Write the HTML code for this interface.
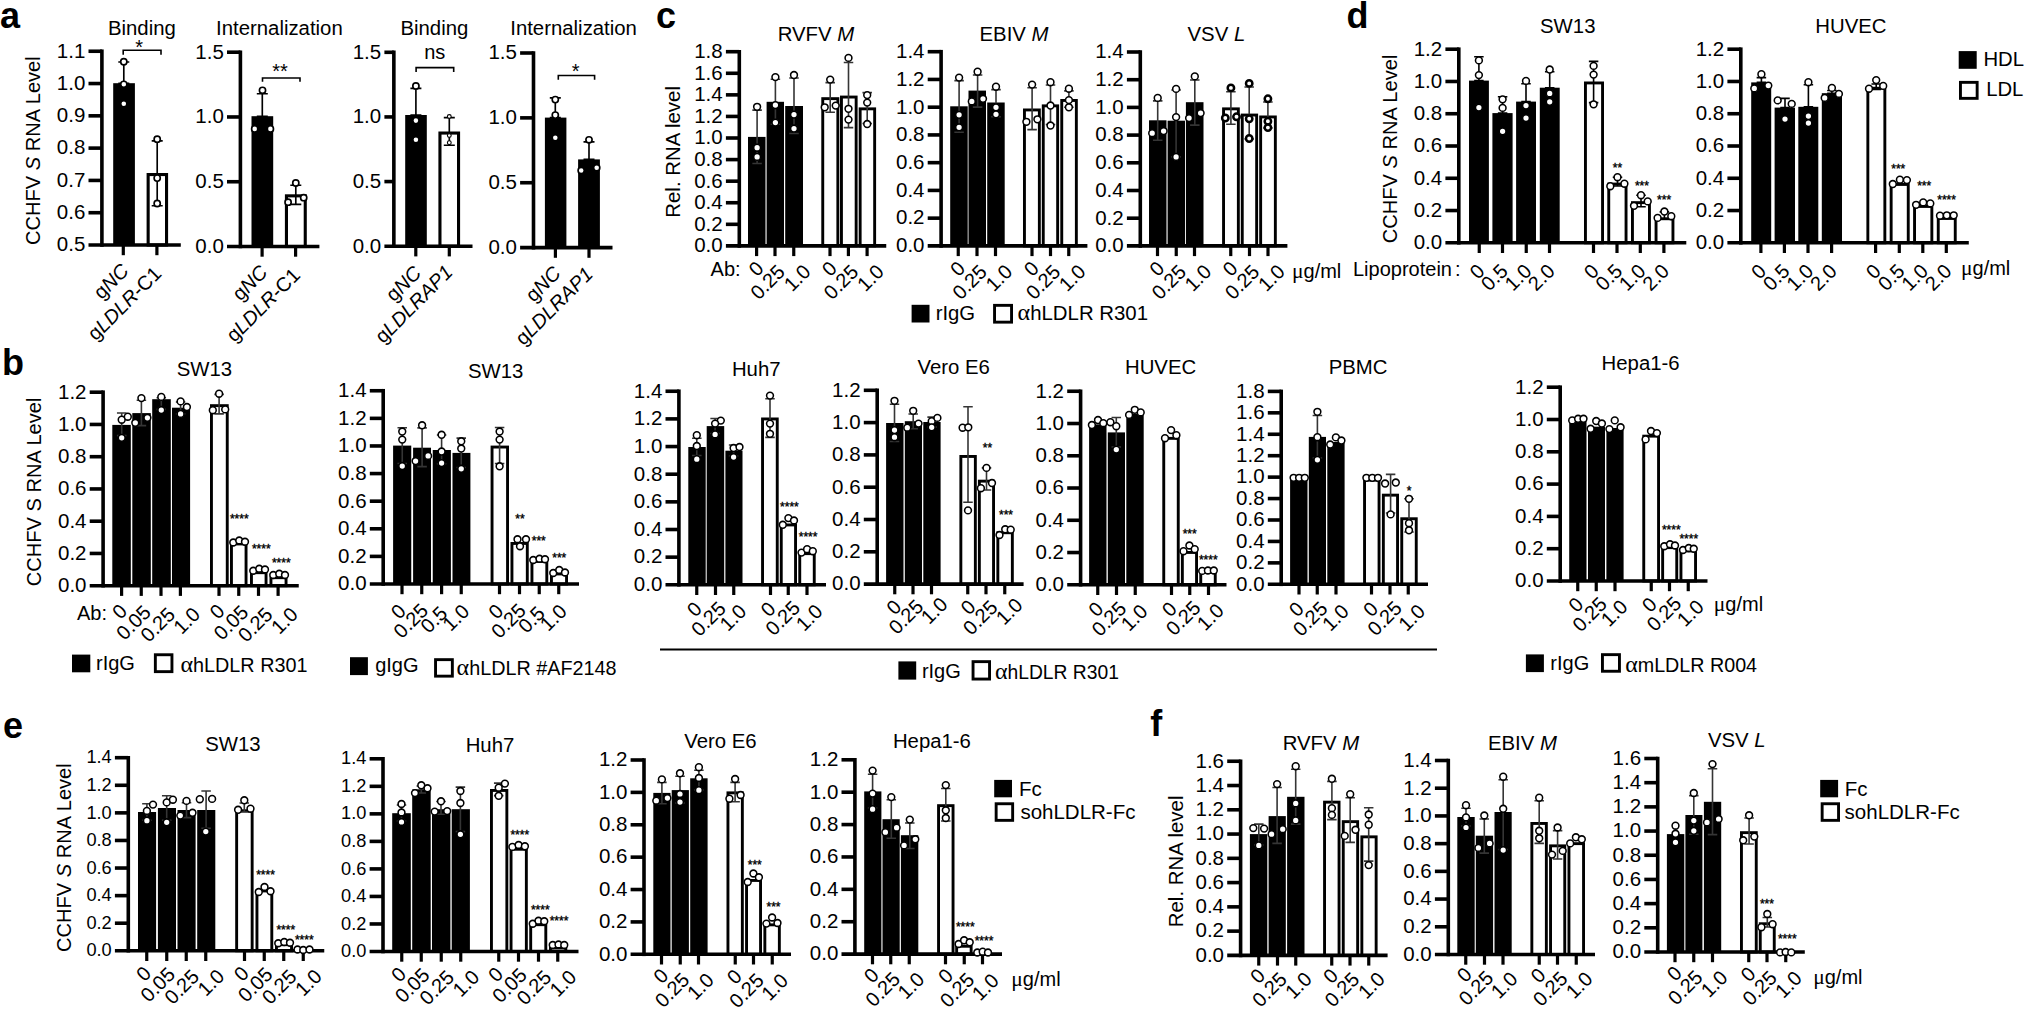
<!DOCTYPE html>
<html lang="en"><head><meta charset="utf-8"><title>Figure</title>
<style>
html,body{margin:0;padding:0;background:#fff}
body{width:2025px;height:1009px;overflow:hidden}
svg{display:block;font-family:"Liberation Sans",Arial,Helvetica,sans-serif;font-size:20px;fill:#000}
svg text{white-space:pre}
</style></head><body>
<svg width="2025" height="1009" viewBox="0 0 2025 1009">
<rect width="2025" height="1009" fill="#fff"/>
<g>
<rect x="113.2" y="83.2" width="21.7" height="161.8"/>
<rect x="148.15" y="174.55" width="18.4" height="70.45" fill="#fff" stroke="#000" stroke-width="3.1"/>
<path d="M101.9 49.45L101.9 246.8" stroke="#000" stroke-width="3.6"/>
<path d="M88.5 245L180.8 245" stroke="#000" stroke-width="3.6"/>
<path d="M88.5 51.25L101.9 51.25" stroke="#000" stroke-width="3.6"/>
<text x="85.3" y="57.58" text-anchor="end" font-size="20.5">1.1</text>
<path d="M88.5 83.54L101.9 83.54" stroke="#000" stroke-width="3.6"/>
<text x="85.3" y="89.88" text-anchor="end" font-size="20.5">1.0</text>
<path d="M88.5 115.83L101.9 115.83" stroke="#000" stroke-width="3.6"/>
<text x="85.3" y="122.17" text-anchor="end" font-size="20.5">0.9</text>
<path d="M88.5 148.12L101.9 148.12" stroke="#000" stroke-width="3.6"/>
<text x="85.3" y="154.46" text-anchor="end" font-size="20.5">0.8</text>
<path d="M88.5 180.42L101.9 180.42" stroke="#000" stroke-width="3.6"/>
<text x="85.3" y="186.75" text-anchor="end" font-size="20.5">0.7</text>
<path d="M88.5 212.71L101.9 212.71" stroke="#000" stroke-width="3.6"/>
<text x="85.3" y="219.04" text-anchor="end" font-size="20.5">0.6</text>
<text x="85.3" y="251.33" text-anchor="end" font-size="20.5">0.5</text>
<path d="M123.3 245L123.3 255.2" stroke="#000" stroke-width="3.2"/>
<path d="M156.9 245L156.9 255.2" stroke="#000" stroke-width="3.2"/>
<path d="M123.8 62L123.8 83.2M118.3 62L129.3 62M118.3 83.2L129.3 83.2" stroke="#000" stroke-width="1.65" fill="none"/>
<path d="M157.2 140.9L157.2 205.7M151.7 140.9L162.7 140.9M151.7 205.7L162.7 205.7" stroke="#000" stroke-width="1.65" fill="none"/>
<circle cx="123.8" cy="61.7" r="3.1" fill="#fff" stroke="#000" stroke-width="1.65"/>
<circle cx="123.8" cy="84.3" r="3.1" fill="#fff" stroke="#000" stroke-width="1.65"/>
<circle cx="123.8" cy="103.8" r="3.1" fill="#fff" stroke="#000" stroke-width="1.65"/>
<circle cx="157.2" cy="139.2" r="3.1" fill="#fff" stroke="#000" stroke-width="1.65"/>
<circle cx="157.2" cy="178.1" r="3.1" fill="#fff" stroke="#000" stroke-width="1.65"/>
<circle cx="157.2" cy="203.5" r="3.1" fill="#fff" stroke="#000" stroke-width="1.65"/>
<text x="141.9" y="34.5" text-anchor="middle" font-size="20.35">Binding</text>
<text transform="translate(130 272) rotate(-45)" text-anchor="end">g<tspan font-style="italic">NC</tspan></text>
<text transform="translate(162.6 274.8) rotate(-45)" text-anchor="end">g<tspan font-style="italic">LDLR</tspan>-C1</text>
<path d="M123.2 54.8L123.2 50.2L161 50.2L161 54.8" stroke="#000" stroke-width="1.6" fill="none"/>
<text x="139.2" y="54.3" text-anchor="middle">*</text>
<text transform="translate(40 150.6) rotate(-90)" text-anchor="middle" font-size="20.1">CCHFV <tspan font-style="italic">S</tspan> RNA Level</text>
</g>
<g>
<rect x="251.5" y="116.2" width="21.7" height="130.3"/>
<rect x="286.45" y="195.85" width="18.8" height="50.65" fill="#fff" stroke="#000" stroke-width="3.1"/>
<path d="M240.4 50.4L240.4 248.3" stroke="#000" stroke-width="3.6"/>
<path d="M227 246.5L319.4 246.5" stroke="#000" stroke-width="3.6"/>
<path d="M227 52.2L240.4 52.2" stroke="#000" stroke-width="3.6"/>
<text x="223.8" y="58.53" text-anchor="end" font-size="20.5">1.5</text>
<path d="M227 116.97L240.4 116.97" stroke="#000" stroke-width="3.6"/>
<text x="223.8" y="123.3" text-anchor="end" font-size="20.5">1.0</text>
<path d="M227 181.73L240.4 181.73" stroke="#000" stroke-width="3.6"/>
<text x="223.8" y="188.07" text-anchor="end" font-size="20.5">0.5</text>
<text x="223.8" y="252.83" text-anchor="end" font-size="20.5">0.0</text>
<path d="M262.1 246.5L262.1 256.7" stroke="#000" stroke-width="3.2"/>
<path d="M295.6 246.5L295.6 256.7" stroke="#000" stroke-width="3.2"/>
<path d="M262.3 93.7L262.3 116.2M256.8 93.7L267.8 93.7M256.8 116.2L267.8 116.2" stroke="#000" stroke-width="1.65" fill="none"/>
<path d="M295.8 185.2L295.8 204.3M290.3 185.2L301.3 185.2M290.3 204.3L301.3 204.3" stroke="#000" stroke-width="1.65" fill="none"/>
<circle cx="262.5" cy="90.3" r="3.1" fill="#fff" stroke="#000" stroke-width="1.65"/>
<circle cx="254.7" cy="128.9" r="3.1" fill="#fff" stroke="#000" stroke-width="1.65"/>
<circle cx="270.4" cy="128.9" r="3.1" fill="#fff" stroke="#000" stroke-width="1.65"/>
<circle cx="295.8" cy="183" r="3.1" fill="#fff" stroke="#000" stroke-width="1.65"/>
<circle cx="288.1" cy="202.2" r="3.1" fill="#fff" stroke="#000" stroke-width="1.65"/>
<circle cx="303.7" cy="197.7" r="3.1" fill="#fff" stroke="#000" stroke-width="1.65"/>
<text x="279.4" y="34.5" text-anchor="middle" font-size="20.35">Internalization</text>
<text transform="translate(268.7 273.5) rotate(-45)" text-anchor="end">g<tspan font-style="italic">NC</tspan></text>
<text transform="translate(301.3 276.3) rotate(-45)" text-anchor="end">g<tspan font-style="italic">LDLR</tspan>-C1</text>
<path d="M262.5 81.8L262.5 78L300 78L300 81.8" stroke="#000" stroke-width="1.6" fill="none"/>
<text x="280" y="78.4" text-anchor="middle">**</text>
</g>
<g>
<rect x="405.2" y="115" width="21.6" height="131.2"/>
<rect x="439.95" y="133.05" width="18.6" height="113.15" fill="#fff" stroke="#000" stroke-width="3.1"/>
<path d="M393.85 50.5L393.85 248" stroke="#000" stroke-width="3.6"/>
<path d="M384.4 246.2L472.5 246.2" stroke="#000" stroke-width="3.6"/>
<path d="M384.4 52.3L393.85 52.3" stroke="#000" stroke-width="3.6"/>
<text x="381.2" y="58.63" text-anchor="end" font-size="20.5">1.5</text>
<path d="M384.4 116.93L393.85 116.93" stroke="#000" stroke-width="3.6"/>
<text x="381.2" y="123.27" text-anchor="end" font-size="20.5">1.0</text>
<path d="M384.4 181.57L393.85 181.57" stroke="#000" stroke-width="3.6"/>
<text x="381.2" y="187.9" text-anchor="end" font-size="20.5">0.5</text>
<text x="381.2" y="252.53" text-anchor="end" font-size="20.5">0.0</text>
<path d="M415.8 246.2L415.8 256.4" stroke="#000" stroke-width="3.2"/>
<path d="M449.3 246.2L449.3 256.4" stroke="#000" stroke-width="3.2"/>
<path d="M415.9 88.3L415.9 115M410.4 88.3L421.4 88.3M410.4 115L421.4 115" stroke="#000" stroke-width="1.65" fill="none"/>
<path d="M449.3 117.6L449.3 145.2M443.8 117.6L454.8 117.6M443.8 145.2L454.8 145.2" stroke="#000" stroke-width="1.65" fill="none"/>
<circle cx="415.9" cy="85.9" r="3.1" fill="#fff" stroke="#000" stroke-width="1.65"/>
<circle cx="415.9" cy="120.6" r="3.1" fill="#fff" stroke="#000" stroke-width="1.65"/>
<circle cx="415.9" cy="139.7" r="3.1" fill="#fff" stroke="#000" stroke-width="1.65"/>
<circle cx="449.3" cy="116.5" r="1.9" fill="#fff" stroke="#000" stroke-width="1.1"/>
<circle cx="449.3" cy="135.5" r="1.9" fill="#fff" stroke="#000" stroke-width="1.1"/>
<circle cx="449.3" cy="142.7" r="1.9" fill="#fff" stroke="#000" stroke-width="1.1"/>
<text x="434.4" y="34.5" text-anchor="middle" font-size="20.35">Binding</text>
<text transform="translate(422.4 274.2) rotate(-45)" text-anchor="end">g<tspan font-style="italic">NC</tspan></text>
<text transform="translate(453.9 273.5) rotate(-45)" text-anchor="end">g<tspan font-style="italic">LDLRAP1</tspan></text>
<path d="M416.1 71.9L416.1 67.6L453.7 67.6L453.7 71.9" stroke="#000" stroke-width="1.6" fill="none"/>
<text x="434.8" y="58.8" text-anchor="middle">ns</text>
</g>
<g>
<rect x="544.9" y="117.6" width="21.5" height="130"/>
<rect x="578.1" y="159.4" width="21.8" height="88.2"/>
<path d="M533.5 51.2L533.5 249.4" stroke="#000" stroke-width="3.6"/>
<path d="M520.1 247.6L612.5 247.6" stroke="#000" stroke-width="3.6"/>
<path d="M520.1 53L533.5 53" stroke="#000" stroke-width="3.6"/>
<text x="516.9" y="59.33" text-anchor="end" font-size="20.5">1.5</text>
<path d="M520.1 117.87L533.5 117.87" stroke="#000" stroke-width="3.6"/>
<text x="516.9" y="124.2" text-anchor="end" font-size="20.5">1.0</text>
<path d="M520.1 182.73L533.5 182.73" stroke="#000" stroke-width="3.6"/>
<text x="516.9" y="189.07" text-anchor="end" font-size="20.5">0.5</text>
<text x="516.9" y="253.93" text-anchor="end" font-size="20.5">0.0</text>
<path d="M555.4 247.6L555.4 257.8" stroke="#000" stroke-width="3.2"/>
<path d="M589 247.6L589 257.8" stroke="#000" stroke-width="3.2"/>
<path d="M555.3 97.9L555.3 117.6M549.8 97.9L560.8 97.9M549.8 117.6L560.8 117.6" stroke="#000" stroke-width="1.65" fill="none"/>
<path d="M589 141.8L589 159.4M583.5 141.8L594.5 141.8M583.5 159.4L594.5 159.4" stroke="#000" stroke-width="1.65" fill="none"/>
<circle cx="555.3" cy="99.6" r="3.1" fill="#fff" stroke="#000" stroke-width="1.65"/>
<circle cx="555.3" cy="115.1" r="3.1" fill="#fff" stroke="#000" stroke-width="1.65"/>
<circle cx="555.3" cy="137.7" r="3.1" fill="#fff" stroke="#000" stroke-width="1.65"/>
<circle cx="589" cy="139.8" r="3.1" fill="#fff" stroke="#000" stroke-width="1.65"/>
<circle cx="581.2" cy="170.5" r="3.1" fill="#fff" stroke="#000" stroke-width="1.65"/>
<circle cx="596.7" cy="167.7" r="3.1" fill="#fff" stroke="#000" stroke-width="1.65"/>
<text x="573.6" y="34.5" text-anchor="middle" font-size="20.35">Internalization</text>
<text transform="translate(562 274.6) rotate(-45)" text-anchor="end">g<tspan font-style="italic">NC</tspan></text>
<text transform="translate(594.2 275.4) rotate(-45)" text-anchor="end">g<tspan font-style="italic">LDLRAP1</tspan></text>
<path d="M558.3 79.7L558.3 75.5L594.6 75.5L594.6 79.7" stroke="#000" stroke-width="1.6" fill="none"/>
<text x="575.6" y="78.4" text-anchor="middle">*</text>
</g>
<g>
<rect x="748" y="136.9" width="17.5" height="109"/>
<rect x="766.6" y="101.8" width="17.4" height="144.1"/>
<rect x="785.2" y="106" width="17.8" height="139.9"/>
<rect x="822.75" y="98.65" width="15.1" height="147.25" fill="#fff" stroke="#000" stroke-width="2.9"/>
<rect x="841.45" y="97.05" width="14.7" height="148.85" fill="#fff" stroke="#000" stroke-width="2.9"/>
<rect x="860.15" y="108.85" width="14.5" height="137.05" fill="#fff" stroke="#000" stroke-width="2.9"/>
<path d="M739.3 49.9L739.3 247.7" stroke="#000" stroke-width="3.6"/>
<path d="M725.9 245.9L886.25 245.9" stroke="#000" stroke-width="3.6"/>
<path d="M725.9 51.7L739.3 51.7" stroke="#000" stroke-width="3.6"/>
<text x="722.7" y="58.03" text-anchor="end" font-size="20.5">1.8</text>
<path d="M725.9 73.28L739.3 73.28" stroke="#000" stroke-width="3.6"/>
<text x="722.7" y="79.61" text-anchor="end" font-size="20.5">1.6</text>
<path d="M725.9 94.86L739.3 94.86" stroke="#000" stroke-width="3.6"/>
<text x="722.7" y="101.19" text-anchor="end" font-size="20.5">1.4</text>
<path d="M725.9 116.43L739.3 116.43" stroke="#000" stroke-width="3.6"/>
<text x="722.7" y="122.77" text-anchor="end" font-size="20.5">1.2</text>
<path d="M725.9 138.01L739.3 138.01" stroke="#000" stroke-width="3.6"/>
<text x="722.7" y="144.35" text-anchor="end" font-size="20.5">1.0</text>
<path d="M725.9 159.59L739.3 159.59" stroke="#000" stroke-width="3.6"/>
<text x="722.7" y="165.92" text-anchor="end" font-size="20.5">0.8</text>
<path d="M725.9 181.17L739.3 181.17" stroke="#000" stroke-width="3.6"/>
<text x="722.7" y="187.5" text-anchor="end" font-size="20.5">0.6</text>
<path d="M725.9 202.74L739.3 202.74" stroke="#000" stroke-width="3.6"/>
<text x="722.7" y="209.08" text-anchor="end" font-size="20.5">0.4</text>
<path d="M725.9 224.32L739.3 224.32" stroke="#000" stroke-width="3.6"/>
<text x="722.7" y="230.66" text-anchor="end" font-size="20.5">0.2</text>
<text x="722.7" y="252.23" text-anchor="end" font-size="20.5">0.0</text>
<path d="M756.6 245.9L756.6 256.1" stroke="#000" stroke-width="3.2"/>
<path d="M775 245.9L775 256.1" stroke="#000" stroke-width="3.2"/>
<path d="M793.75 245.9L793.75 256.1" stroke="#000" stroke-width="3.2"/>
<path d="M830 245.9L830 256.1" stroke="#000" stroke-width="3.2"/>
<path d="M848.4 245.9L848.4 256.1" stroke="#000" stroke-width="3.2"/>
<path d="M867.1 245.9L867.1 256.1" stroke="#000" stroke-width="3.2"/>
<path d="M757.1 110.1L757.1 163.5M752.35 110.1L761.85 110.1M752.35 163.5L761.85 163.5" stroke="#353535" stroke-width="1.6" fill="none"/>
<path d="M775.4 79.2L775.4 124.3M770.65 79.2L780.15 79.2M770.65 124.3L780.15 124.3" stroke="#353535" stroke-width="1.6" fill="none"/>
<path d="M794 78L794 133.5M789.25 78L798.75 78M789.25 133.5L798.75 133.5" stroke="#353535" stroke-width="1.6" fill="none"/>
<path d="M830.2 82.6L830.2 112.3M825.45 82.6L834.95 82.6M825.45 112.3L834.95 112.3" stroke="#353535" stroke-width="1.6" fill="none"/>
<path d="M848.5 62.5L848.5 127.6M843.75 62.5L853.25 62.5M843.75 127.6L853.25 127.6" stroke="#353535" stroke-width="1.6" fill="none"/>
<path d="M867.2 92.6L867.2 123.5M862.45 92.6L871.95 92.6M862.45 123.5L871.95 123.5" stroke="#353535" stroke-width="1.6" fill="none"/>
<circle cx="757.1" cy="106.8" r="3.4" fill="#fff" stroke="#000" stroke-width="1.55"/>
<circle cx="757.1" cy="147.7" r="3.4" fill="#fff" stroke="#000" stroke-width="1.55"/>
<circle cx="757.1" cy="156.9" r="3.4" fill="#fff" stroke="#000" stroke-width="1.55"/>
<circle cx="775.4" cy="77.1" r="3.4" fill="#fff" stroke="#000" stroke-width="1.55"/>
<circle cx="775.4" cy="105.1" r="3.4" fill="#fff" stroke="#000" stroke-width="1.55"/>
<circle cx="775.4" cy="122.6" r="3.4" fill="#fff" stroke="#000" stroke-width="1.55"/>
<circle cx="794" cy="75" r="3.4" fill="#fff" stroke="#000" stroke-width="1.55"/>
<circle cx="794" cy="114.6" r="3.4" fill="#fff" stroke="#000" stroke-width="1.55"/>
<circle cx="794" cy="128.5" r="3.4" fill="#fff" stroke="#000" stroke-width="1.55"/>
<circle cx="830.2" cy="79.6" r="3.4" fill="#fff" stroke="#000" stroke-width="1.55"/>
<circle cx="824.7" cy="107.3" r="3.4" fill="#fff" stroke="#000" stroke-width="1.55"/>
<circle cx="835.7" cy="105.6" r="3.4" fill="#fff" stroke="#000" stroke-width="1.55"/>
<circle cx="848.5" cy="57.9" r="3.4" fill="#fff" stroke="#000" stroke-width="1.55"/>
<circle cx="848.5" cy="108.8" r="3.4" fill="#fff" stroke="#000" stroke-width="1.55"/>
<circle cx="848.5" cy="119.6" r="3.4" fill="#fff" stroke="#000" stroke-width="1.55"/>
<circle cx="867.2" cy="95.1" r="3.4" fill="#fff" stroke="#000" stroke-width="1.55"/>
<circle cx="867.2" cy="102.6" r="3.4" fill="#fff" stroke="#000" stroke-width="1.55"/>
<circle cx="867.2" cy="124" r="3.4" fill="#fff" stroke="#000" stroke-width="1.55"/>
<text x="815.9" y="40.5" text-anchor="middle" font-size="20.35">RVFV <tspan font-style="italic">M</tspan></text>
<text transform="translate(764.8 269.6) rotate(-45)" text-anchor="end">0</text>
<text transform="translate(786.2 273.2) rotate(-45)" text-anchor="end">0.25</text>
<text transform="translate(811.85 272.9) rotate(-45)" text-anchor="end">1.0</text>
<text transform="translate(838.2 269.6) rotate(-45)" text-anchor="end">0</text>
<text transform="translate(859.6 273.2) rotate(-45)" text-anchor="end">0.25</text>
<text transform="translate(885.2 272.9) rotate(-45)" text-anchor="end">1.0</text>
<text transform="translate(680 151.9) rotate(-90)" text-anchor="middle" font-size="20.45">Rel. RNA level</text>
</g>
<g>
<rect x="950.2" y="106.3" width="17.5" height="139.6"/>
<rect x="968.5" y="90.6" width="17.5" height="155.3"/>
<rect x="987.2" y="102.5" width="17.5" height="143.4"/>
<rect x="1024.45" y="109.95" width="14.9" height="135.95" fill="#fff" stroke="#000" stroke-width="2.9"/>
<rect x="1043.25" y="105.85" width="14.4" height="140.05" fill="#fff" stroke="#000" stroke-width="2.9"/>
<rect x="1061.75" y="100.45" width="14.6" height="145.45" fill="#fff" stroke="#000" stroke-width="2.9"/>
<path d="M941.1 49.9L941.1 247.7" stroke="#000" stroke-width="3.6"/>
<path d="M927.7 245.9L1087.4 245.9" stroke="#000" stroke-width="3.6"/>
<path d="M927.7 51.7L941.1 51.7" stroke="#000" stroke-width="3.6"/>
<text x="924.5" y="58.03" text-anchor="end" font-size="20.5">1.4</text>
<path d="M927.7 79.44L941.1 79.44" stroke="#000" stroke-width="3.6"/>
<text x="924.5" y="85.78" text-anchor="end" font-size="20.5">1.2</text>
<path d="M927.7 107.19L941.1 107.19" stroke="#000" stroke-width="3.6"/>
<text x="924.5" y="113.52" text-anchor="end" font-size="20.5">1.0</text>
<path d="M927.7 134.93L941.1 134.93" stroke="#000" stroke-width="3.6"/>
<text x="924.5" y="141.26" text-anchor="end" font-size="20.5">0.8</text>
<path d="M927.7 162.67L941.1 162.67" stroke="#000" stroke-width="3.6"/>
<text x="924.5" y="169.01" text-anchor="end" font-size="20.5">0.6</text>
<path d="M927.7 190.41L941.1 190.41" stroke="#000" stroke-width="3.6"/>
<text x="924.5" y="196.75" text-anchor="end" font-size="20.5">0.4</text>
<path d="M927.7 218.16L941.1 218.16" stroke="#000" stroke-width="3.6"/>
<text x="924.5" y="224.49" text-anchor="end" font-size="20.5">0.2</text>
<text x="924.5" y="252.23" text-anchor="end" font-size="20.5">0.0</text>
<path d="M958.25 245.9L958.25 256.1" stroke="#000" stroke-width="3.2"/>
<path d="M977 245.9L977 256.1" stroke="#000" stroke-width="3.2"/>
<path d="M995.5 245.9L995.5 256.1" stroke="#000" stroke-width="3.2"/>
<path d="M1032 245.9L1032 256.1" stroke="#000" stroke-width="3.2"/>
<path d="M1050.5 245.9L1050.5 256.1" stroke="#000" stroke-width="3.2"/>
<path d="M1068.75 245.9L1068.75 256.1" stroke="#000" stroke-width="3.2"/>
<path d="M959.1 80.6L959.1 132.3M954.35 80.6L963.85 80.6M954.35 132.3L963.85 132.3" stroke="#353535" stroke-width="1.6" fill="none"/>
<path d="M977.6 75L977.6 107.1M972.85 75L982.35 75M972.85 107.1L982.35 107.1" stroke="#353535" stroke-width="1.6" fill="none"/>
<path d="M996 89.6L996 116.8M991.25 89.6L1000.75 89.6M991.25 116.8L1000.75 116.8" stroke="#353535" stroke-width="1.6" fill="none"/>
<path d="M1032.1 87.7L1032.1 129.6M1027.35 87.7L1036.85 87.7M1027.35 129.6L1036.85 129.6" stroke="#353535" stroke-width="1.6" fill="none"/>
<path d="M1050.5 85L1050.5 124.5M1045.75 85L1055.25 85M1045.75 124.5L1055.25 124.5" stroke="#353535" stroke-width="1.6" fill="none"/>
<path d="M1068.9 90.9L1068.9 107.3M1064.15 90.9L1073.65 90.9M1064.15 107.3L1073.65 107.3" stroke="#353535" stroke-width="1.6" fill="none"/>
<circle cx="959.1" cy="77.6" r="3.4" fill="#fff" stroke="#000" stroke-width="1.55"/>
<circle cx="959.1" cy="114.8" r="3.4" fill="#fff" stroke="#000" stroke-width="1.55"/>
<circle cx="959.1" cy="127.3" r="3.4" fill="#fff" stroke="#000" stroke-width="1.55"/>
<circle cx="977.6" cy="71.7" r="3.4" fill="#fff" stroke="#000" stroke-width="1.55"/>
<circle cx="971.8" cy="101.4" r="3.4" fill="#fff" stroke="#000" stroke-width="1.55"/>
<circle cx="983" cy="98.8" r="3.4" fill="#fff" stroke="#000" stroke-width="1.55"/>
<circle cx="996" cy="86.7" r="3.4" fill="#fff" stroke="#000" stroke-width="1.55"/>
<circle cx="996" cy="107.3" r="3.4" fill="#fff" stroke="#000" stroke-width="1.55"/>
<circle cx="996" cy="114.3" r="3.4" fill="#fff" stroke="#000" stroke-width="1.55"/>
<circle cx="1032.1" cy="84.6" r="3.4" fill="#fff" stroke="#000" stroke-width="1.55"/>
<circle cx="1026.4" cy="121.8" r="3.4" fill="#fff" stroke="#000" stroke-width="1.55"/>
<circle cx="1037.4" cy="119.3" r="3.4" fill="#fff" stroke="#000" stroke-width="1.55"/>
<circle cx="1050.5" cy="82.2" r="3.4" fill="#fff" stroke="#000" stroke-width="1.55"/>
<circle cx="1050.5" cy="105.5" r="3.4" fill="#fff" stroke="#000" stroke-width="1.55"/>
<circle cx="1050.5" cy="125.5" r="3.4" fill="#fff" stroke="#000" stroke-width="1.55"/>
<circle cx="1068.9" cy="88.7" r="3.4" fill="#fff" stroke="#000" stroke-width="1.55"/>
<circle cx="1068.9" cy="100.1" r="3.4" fill="#fff" stroke="#000" stroke-width="1.55"/>
<circle cx="1068.9" cy="107.3" r="3.4" fill="#fff" stroke="#000" stroke-width="1.55"/>
<text x="1014" y="40.5" text-anchor="middle" font-size="20.35">EBIV <tspan font-style="italic">M</tspan></text>
<text transform="translate(966.45 269.6) rotate(-45)" text-anchor="end">0</text>
<text transform="translate(988.2 273.2) rotate(-45)" text-anchor="end">0.25</text>
<text transform="translate(1013.6 272.9) rotate(-45)" text-anchor="end">1.0</text>
<text transform="translate(1040.2 269.6) rotate(-45)" text-anchor="end">0</text>
<text transform="translate(1061.7 273.2) rotate(-45)" text-anchor="end">0.25</text>
<text transform="translate(1086.85 272.9) rotate(-45)" text-anchor="end">1.0</text>
</g>
<g>
<rect x="1149" y="120.3" width="17.5" height="125.6"/>
<rect x="1167.6" y="120.7" width="17.4" height="125.2"/>
<rect x="1185.9" y="102.2" width="17.6" height="143.7"/>
<rect x="1223.55" y="108.85" width="14.8" height="137.05" fill="#fff" stroke="#000" stroke-width="2.9"/>
<rect x="1242.25" y="115.05" width="14.4" height="130.85" fill="#fff" stroke="#000" stroke-width="2.9"/>
<rect x="1260.65" y="116.95" width="14.7" height="128.95" fill="#fff" stroke="#000" stroke-width="2.9"/>
<path d="M1140.3 50.2L1140.3 247.7" stroke="#000" stroke-width="3.6"/>
<path d="M1126.9 245.9L1287.4 245.9" stroke="#000" stroke-width="3.6"/>
<path d="M1126.9 52L1140.3 52" stroke="#000" stroke-width="3.6"/>
<text x="1123.7" y="58.33" text-anchor="end" font-size="20.5">1.4</text>
<path d="M1126.9 79.7L1140.3 79.7" stroke="#000" stroke-width="3.6"/>
<text x="1123.7" y="86.03" text-anchor="end" font-size="20.5">1.2</text>
<path d="M1126.9 107.4L1140.3 107.4" stroke="#000" stroke-width="3.6"/>
<text x="1123.7" y="113.73" text-anchor="end" font-size="20.5">1.0</text>
<path d="M1126.9 135.1L1140.3 135.1" stroke="#000" stroke-width="3.6"/>
<text x="1123.7" y="141.43" text-anchor="end" font-size="20.5">0.8</text>
<path d="M1126.9 162.8L1140.3 162.8" stroke="#000" stroke-width="3.6"/>
<text x="1123.7" y="169.13" text-anchor="end" font-size="20.5">0.6</text>
<path d="M1126.9 190.5L1140.3 190.5" stroke="#000" stroke-width="3.6"/>
<text x="1123.7" y="196.83" text-anchor="end" font-size="20.5">0.4</text>
<path d="M1126.9 218.2L1140.3 218.2" stroke="#000" stroke-width="3.6"/>
<text x="1123.7" y="224.53" text-anchor="end" font-size="20.5">0.2</text>
<text x="1123.7" y="252.23" text-anchor="end" font-size="20.5">0.0</text>
<path d="M1157.5 245.9L1157.5 256.1" stroke="#000" stroke-width="3.2"/>
<path d="M1176.25 245.9L1176.25 256.1" stroke="#000" stroke-width="3.2"/>
<path d="M1194.5 245.9L1194.5 256.1" stroke="#000" stroke-width="3.2"/>
<path d="M1230.75 245.9L1230.75 256.1" stroke="#000" stroke-width="3.2"/>
<path d="M1249.5 245.9L1249.5 256.1" stroke="#000" stroke-width="3.2"/>
<path d="M1268 245.9L1268 256.1" stroke="#000" stroke-width="3.2"/>
<path d="M1157.7 100.9L1157.7 140.2M1152.95 100.9L1162.45 100.9M1152.95 140.2L1162.45 140.2" stroke="#353535" stroke-width="1.6" fill="none"/>
<path d="M1176.1 90L1176.1 156.9M1171.35 90L1180.85 90M1171.35 156.9L1180.85 156.9" stroke="#353535" stroke-width="1.6" fill="none"/>
<path d="M1194.8 80L1194.8 125.1M1190.05 80L1199.55 80M1190.05 125.1L1199.55 125.1" stroke="#353535" stroke-width="1.6" fill="none"/>
<path d="M1230.9 91.8L1230.9 124.3M1226.15 91.8L1235.65 91.8M1226.15 124.3L1235.65 124.3" stroke="#353535" stroke-width="1.6" fill="none"/>
<path d="M1249.2 87L1249.2 139M1244.45 87L1253.95 87M1244.45 139L1253.95 139" stroke="#353535" stroke-width="1.6" fill="none"/>
<path d="M1267.9 102L1267.9 128M1263.15 102L1272.65 102M1263.15 128L1272.65 128" stroke="#353535" stroke-width="1.6" fill="none"/>
<circle cx="1157.7" cy="97.9" r="3.4" fill="#fff" stroke="#000" stroke-width="1.55"/>
<circle cx="1152.2" cy="133.2" r="3.4" fill="#fff" stroke="#000" stroke-width="1.55"/>
<circle cx="1163.6" cy="131" r="3.4" fill="#fff" stroke="#000" stroke-width="1.55"/>
<circle cx="1176.1" cy="88.9" r="3.4" fill="#fff" stroke="#000" stroke-width="1.55"/>
<circle cx="1176.1" cy="117.1" r="3.4" fill="#fff" stroke="#000" stroke-width="1.55"/>
<circle cx="1176.1" cy="156.9" r="3.4" fill="#fff" stroke="#000" stroke-width="1.55"/>
<circle cx="1194.8" cy="76.4" r="3.4" fill="#fff" stroke="#000" stroke-width="1.55"/>
<circle cx="1189.1" cy="118.1" r="3.4" fill="#fff" stroke="#000" stroke-width="1.55"/>
<circle cx="1200.6" cy="113.1" r="3.4" fill="#fff" stroke="#000" stroke-width="1.55"/>
<circle cx="1230.9" cy="87.9" r="3.2" fill="#fff" stroke="#000" stroke-width="2.5"/>
<circle cx="1225.3" cy="118" r="3.2" fill="#fff" stroke="#000" stroke-width="2.5"/>
<circle cx="1236.5" cy="116.8" r="3.2" fill="#fff" stroke="#000" stroke-width="2.5"/>
<circle cx="1249.2" cy="83.4" r="3.2" fill="#fff" stroke="#000" stroke-width="2.5"/>
<circle cx="1249.2" cy="118.8" r="3.2" fill="#fff" stroke="#000" stroke-width="2.5"/>
<circle cx="1249.2" cy="138.5" r="3.2" fill="#fff" stroke="#000" stroke-width="2.5"/>
<circle cx="1267.9" cy="98.8" r="3.2" fill="#fff" stroke="#000" stroke-width="2.5"/>
<circle cx="1267.9" cy="121.3" r="3.2" fill="#fff" stroke="#000" stroke-width="2.5"/>
<circle cx="1267.9" cy="127.6" r="3.2" fill="#fff" stroke="#000" stroke-width="2.5"/>
<text x="1216.4" y="40.5" text-anchor="middle" font-size="20.35">VSV <tspan font-style="italic">L</tspan></text>
<text transform="translate(1165.7 269.6) rotate(-45)" text-anchor="end">0</text>
<text transform="translate(1187.45 273.2) rotate(-45)" text-anchor="end">0.25</text>
<text transform="translate(1212.6 272.9) rotate(-45)" text-anchor="end">1.0</text>
<text transform="translate(1238.95 269.6) rotate(-45)" text-anchor="end">0</text>
<text transform="translate(1260.7 273.2) rotate(-45)" text-anchor="end">0.25</text>
<text transform="translate(1286.1 272.9) rotate(-45)" text-anchor="end">1.0</text>
</g>
<g>
<rect x="1469" y="80.6" width="19.9" height="162.2"/>
<rect x="1492.4" y="113.1" width="20.2" height="129.7"/>
<rect x="1516.1" y="101.6" width="19.9" height="141.2"/>
<rect x="1539.8" y="87.7" width="19.9" height="155.1"/>
<rect x="1585.45" y="82.95" width="17.1" height="159.85" fill="#fff" stroke="#000" stroke-width="2.9"/>
<rect x="1608.75" y="184.05" width="17.3" height="58.75" fill="#fff" stroke="#000" stroke-width="2.9"/>
<rect x="1632.45" y="202.65" width="17" height="40.15" fill="#fff" stroke="#000" stroke-width="2.9"/>
<rect x="1656.05" y="218.75" width="16.9" height="24.05" fill="#fff" stroke="#000" stroke-width="2.9"/>
<path d="M1458.8 47.4L1458.8 244.6" stroke="#000" stroke-width="3.6"/>
<path d="M1445.4 242.8L1686.3 242.8" stroke="#000" stroke-width="3.6"/>
<path d="M1445.4 49.2L1458.8 49.2" stroke="#000" stroke-width="3.6"/>
<text x="1442.2" y="55.53" text-anchor="end" font-size="20.5">1.2</text>
<path d="M1445.4 81.47L1458.8 81.47" stroke="#000" stroke-width="3.6"/>
<text x="1442.2" y="87.8" text-anchor="end" font-size="20.5">1.0</text>
<path d="M1445.4 113.73L1458.8 113.73" stroke="#000" stroke-width="3.6"/>
<text x="1442.2" y="120.07" text-anchor="end" font-size="20.5">0.8</text>
<path d="M1445.4 146L1458.8 146" stroke="#000" stroke-width="3.6"/>
<text x="1442.2" y="152.33" text-anchor="end" font-size="20.5">0.6</text>
<path d="M1445.4 178.27L1458.8 178.27" stroke="#000" stroke-width="3.6"/>
<text x="1442.2" y="184.6" text-anchor="end" font-size="20.5">0.4</text>
<path d="M1445.4 210.53L1458.8 210.53" stroke="#000" stroke-width="3.6"/>
<text x="1442.2" y="216.87" text-anchor="end" font-size="20.5">0.2</text>
<text x="1442.2" y="249.13" text-anchor="end" font-size="20.5">0.0</text>
<path d="M1479.25 242.8L1479.25 253" stroke="#000" stroke-width="3.2"/>
<path d="M1502.5 242.8L1502.5 253" stroke="#000" stroke-width="3.2"/>
<path d="M1526.25 242.8L1526.25 253" stroke="#000" stroke-width="3.2"/>
<path d="M1549.5 242.8L1549.5 253" stroke="#000" stroke-width="3.2"/>
<path d="M1593.5 242.8L1593.5 253" stroke="#000" stroke-width="3.2"/>
<path d="M1617 242.8L1617 253" stroke="#000" stroke-width="3.2"/>
<path d="M1640.3 242.8L1640.3 253" stroke="#000" stroke-width="3.2"/>
<path d="M1663.9 242.8L1663.9 253" stroke="#000" stroke-width="3.2"/>
<path d="M1478.9 56.7L1478.9 80.6M1474.15 56.7L1483.65 56.7M1474.15 80.6L1483.65 80.6" stroke="#000" stroke-width="1.6" fill="none"/>
<path d="M1502.6 96.8L1502.6 113.1M1497.85 96.8L1507.35 96.8M1497.85 113.1L1507.35 113.1" stroke="#000" stroke-width="1.6" fill="none"/>
<path d="M1526 83.7L1526 101.6M1521.25 83.7L1530.75 83.7M1521.25 101.6L1530.75 101.6" stroke="#000" stroke-width="1.6" fill="none"/>
<path d="M1549.7 71.7L1549.7 87.7M1544.95 71.7L1554.45 71.7M1544.95 87.7L1554.45 87.7" stroke="#000" stroke-width="1.6" fill="none"/>
<path d="M1593.6 61.4L1593.6 102.6M1588.85 61.4L1598.35 61.4M1588.85 102.6L1598.35 102.6" stroke="#000" stroke-width="1.6" fill="none"/>
<path d="M1617.5 177.2L1617.5 186M1612.75 177.2L1622.25 177.2M1612.75 186L1622.25 186" stroke="#000" stroke-width="1.6" fill="none"/>
<path d="M1641 195.2L1641 206.7M1636.25 195.2L1645.75 195.2M1636.25 206.7L1645.75 206.7" stroke="#000" stroke-width="1.6" fill="none"/>
<path d="M1664.4 211.9L1664.4 219M1659.65 211.9L1669.15 211.9M1659.65 219L1669.15 219" stroke="#000" stroke-width="1.6" fill="none"/>
<circle cx="1478.9" cy="60.4" r="3.4" fill="#fff" stroke="#000" stroke-width="1.55"/>
<circle cx="1478.9" cy="75.1" r="3.4" fill="#fff" stroke="#000" stroke-width="1.55"/>
<circle cx="1478.9" cy="107.6" r="3.4" fill="#fff" stroke="#000" stroke-width="1.55"/>
<circle cx="1502.6" cy="99.3" r="3.4" fill="#fff" stroke="#000" stroke-width="1.55"/>
<circle cx="1502.6" cy="107.9" r="3.4" fill="#fff" stroke="#000" stroke-width="1.55"/>
<circle cx="1502.6" cy="131.3" r="3.4" fill="#fff" stroke="#000" stroke-width="1.55"/>
<circle cx="1526" cy="80.9" r="3.4" fill="#fff" stroke="#000" stroke-width="1.55"/>
<circle cx="1526" cy="105.6" r="3.4" fill="#fff" stroke="#000" stroke-width="1.55"/>
<circle cx="1526" cy="118.1" r="3.4" fill="#fff" stroke="#000" stroke-width="1.55"/>
<circle cx="1549.7" cy="69.5" r="3.4" fill="#fff" stroke="#000" stroke-width="1.55"/>
<circle cx="1549.7" cy="93.4" r="3.4" fill="#fff" stroke="#000" stroke-width="1.55"/>
<circle cx="1549.7" cy="101.8" r="3.4" fill="#fff" stroke="#000" stroke-width="1.55"/>
<circle cx="1593.6" cy="65.9" r="3.4" fill="#fff" stroke="#000" stroke-width="1.55"/>
<circle cx="1593.6" cy="74.6" r="3.4" fill="#fff" stroke="#000" stroke-width="1.55"/>
<circle cx="1593.6" cy="104.3" r="3.4" fill="#fff" stroke="#000" stroke-width="1.55"/>
<circle cx="1617.5" cy="177.2" r="3.4" fill="#fff" stroke="#000" stroke-width="1.55"/>
<circle cx="1610.3" cy="186.2" r="3.4" fill="#fff" stroke="#000" stroke-width="1.55"/>
<circle cx="1624.4" cy="183.7" r="3.4" fill="#fff" stroke="#000" stroke-width="1.55"/>
<circle cx="1641" cy="195.2" r="3.4" fill="#fff" stroke="#000" stroke-width="1.55"/>
<circle cx="1634" cy="205.8" r="3.4" fill="#fff" stroke="#000" stroke-width="1.55"/>
<circle cx="1647.7" cy="201.4" r="3.4" fill="#fff" stroke="#000" stroke-width="1.55"/>
<circle cx="1664.4" cy="211.5" r="3.4" fill="#fff" stroke="#000" stroke-width="1.55"/>
<circle cx="1657.6" cy="217.9" r="3.4" fill="#fff" stroke="#000" stroke-width="1.55"/>
<circle cx="1671.3" cy="216.2" r="3.4" fill="#fff" stroke="#000" stroke-width="1.55"/>
<text x="1567.75" y="32.5" text-anchor="middle" font-size="20.35">SW13</text>
<text transform="translate(1485.75 272.3) rotate(-45)" text-anchor="end">0</text>
<text transform="translate(1509 272.3) rotate(-45)" text-anchor="end">0.5</text>
<text transform="translate(1532.75 272.3) rotate(-45)" text-anchor="end">1.0</text>
<text transform="translate(1556 272.3) rotate(-45)" text-anchor="end">2.0</text>
<text transform="translate(1600 272.3) rotate(-45)" text-anchor="end">0</text>
<text transform="translate(1623.5 272.3) rotate(-45)" text-anchor="end">0.5</text>
<text transform="translate(1646.8 272.3) rotate(-45)" text-anchor="end">1.0</text>
<text transform="translate(1670.4 272.3) rotate(-45)" text-anchor="end">2.0</text>
<text x="1617.4" y="172.3" text-anchor="middle" font-size="12" stroke="#000" stroke-width="0.35">**</text>
<text x="1641.9" y="189.8" text-anchor="middle" font-size="12" stroke="#000" stroke-width="0.35">***</text>
<text x="1664.1" y="203.5" text-anchor="middle" font-size="12" stroke="#000" stroke-width="0.35">***</text>
<text transform="translate(1397 149) rotate(-90)" text-anchor="middle" font-size="20.1">CCHFV <tspan font-style="italic">S</tspan> RNA Level</text>
</g>
<g>
<rect x="1751.2" y="82.4" width="20" height="160.4"/>
<rect x="1774.6" y="107.6" width="20.4" height="135.2"/>
<rect x="1798.3" y="106.8" width="20" height="136"/>
<rect x="1821.8" y="93.2" width="20.2" height="149.6"/>
<rect x="1867.85" y="88.25" width="17" height="154.55" fill="#fff" stroke="#000" stroke-width="2.9"/>
<rect x="1891.15" y="184.45" width="17.1" height="58.35" fill="#fff" stroke="#000" stroke-width="2.9"/>
<rect x="1914.55" y="206.45" width="17.3" height="36.35" fill="#fff" stroke="#000" stroke-width="2.9"/>
<rect x="1938.25" y="218.45" width="17" height="24.35" fill="#fff" stroke="#000" stroke-width="2.9"/>
<path d="M1740.8 47.4L1740.8 244.6" stroke="#000" stroke-width="3.6"/>
<path d="M1727.4 242.8L1968.8 242.8" stroke="#000" stroke-width="3.6"/>
<path d="M1727.4 49.2L1740.8 49.2" stroke="#000" stroke-width="3.6"/>
<text x="1724.2" y="55.53" text-anchor="end" font-size="20.5">1.2</text>
<path d="M1727.4 81.47L1740.8 81.47" stroke="#000" stroke-width="3.6"/>
<text x="1724.2" y="87.8" text-anchor="end" font-size="20.5">1.0</text>
<path d="M1727.4 113.73L1740.8 113.73" stroke="#000" stroke-width="3.6"/>
<text x="1724.2" y="120.07" text-anchor="end" font-size="20.5">0.8</text>
<path d="M1727.4 146L1740.8 146" stroke="#000" stroke-width="3.6"/>
<text x="1724.2" y="152.33" text-anchor="end" font-size="20.5">0.6</text>
<path d="M1727.4 178.27L1740.8 178.27" stroke="#000" stroke-width="3.6"/>
<text x="1724.2" y="184.6" text-anchor="end" font-size="20.5">0.4</text>
<path d="M1727.4 210.53L1740.8 210.53" stroke="#000" stroke-width="3.6"/>
<text x="1724.2" y="216.87" text-anchor="end" font-size="20.5">0.2</text>
<text x="1724.2" y="249.13" text-anchor="end" font-size="20.5">0.0</text>
<path d="M1760.9 242.8L1760.9 253" stroke="#000" stroke-width="3.2"/>
<path d="M1784.4 242.8L1784.4 253" stroke="#000" stroke-width="3.2"/>
<path d="M1808 242.8L1808 253" stroke="#000" stroke-width="3.2"/>
<path d="M1831.6 242.8L1831.6 253" stroke="#000" stroke-width="3.2"/>
<path d="M1875.6 242.8L1875.6 253" stroke="#000" stroke-width="3.2"/>
<path d="M1899.3 242.8L1899.3 253" stroke="#000" stroke-width="3.2"/>
<path d="M1922.8 242.8L1922.8 253" stroke="#000" stroke-width="3.2"/>
<path d="M1946.3 242.8L1946.3 253" stroke="#000" stroke-width="3.2"/>
<path d="M1761.4 77.6L1761.4 82.4M1756.65 77.6L1766.15 77.6M1756.65 82.4L1766.15 82.4" stroke="#000" stroke-width="1.6" fill="none"/>
<path d="M1785 98.4L1785 107.6M1780.25 98.4L1789.75 98.4M1780.25 107.6L1789.75 107.6" stroke="#000" stroke-width="1.6" fill="none"/>
<path d="M1808.4 84.7L1808.4 106.8M1803.65 84.7L1813.15 84.7M1803.65 106.8L1813.15 106.8" stroke="#000" stroke-width="1.6" fill="none"/>
<path d="M1831.9 90.5L1831.9 93.2M1827.15 90.5L1836.65 90.5M1827.15 93.2L1836.65 93.2" stroke="#000" stroke-width="1.6" fill="none"/>
<path d="M1876.2 84L1876.2 89.5M1871.45 84L1880.95 84M1871.45 89.5L1880.95 89.5" stroke="#000" stroke-width="1.6" fill="none"/>
<circle cx="1761.4" cy="74.2" r="3.4" fill="#fff" stroke="#000" stroke-width="1.55"/>
<circle cx="1754.3" cy="88.4" r="3.4" fill="#fff" stroke="#000" stroke-width="1.55"/>
<circle cx="1768.3" cy="85.6" r="3.4" fill="#fff" stroke="#000" stroke-width="1.55"/>
<circle cx="1777.7" cy="100.4" r="3.4" fill="#fff" stroke="#000" stroke-width="1.55"/>
<circle cx="1791.7" cy="103.9" r="3.4" fill="#fff" stroke="#000" stroke-width="1.55"/>
<circle cx="1785" cy="119" r="3.4" fill="#fff" stroke="#000" stroke-width="1.55"/>
<circle cx="1808.4" cy="82.2" r="3.4" fill="#fff" stroke="#000" stroke-width="1.55"/>
<circle cx="1808.4" cy="116" r="3.4" fill="#fff" stroke="#000" stroke-width="1.55"/>
<circle cx="1808.4" cy="123.1" r="3.4" fill="#fff" stroke="#000" stroke-width="1.55"/>
<circle cx="1831.9" cy="87.9" r="3.4" fill="#fff" stroke="#000" stroke-width="1.55"/>
<circle cx="1824.7" cy="97.9" r="3.4" fill="#fff" stroke="#000" stroke-width="1.55"/>
<circle cx="1838.9" cy="93.9" r="3.4" fill="#fff" stroke="#000" stroke-width="1.55"/>
<circle cx="1876.2" cy="80.1" r="3.4" fill="#fff" stroke="#000" stroke-width="1.55"/>
<circle cx="1869" cy="88.7" r="3.4" fill="#fff" stroke="#000" stroke-width="1.55"/>
<circle cx="1883.2" cy="85.9" r="3.4" fill="#fff" stroke="#000" stroke-width="1.55"/>
<circle cx="1892.8" cy="184" r="3.4" fill="#fff" stroke="#000" stroke-width="1.55"/>
<circle cx="1899.9" cy="179.7" r="3.4" fill="#fff" stroke="#000" stroke-width="1.55"/>
<circle cx="1906.9" cy="180.1" r="3.4" fill="#fff" stroke="#000" stroke-width="1.55"/>
<circle cx="1916.1" cy="204.8" r="3.4" fill="#fff" stroke="#000" stroke-width="1.55"/>
<circle cx="1923.2" cy="202.4" r="3.4" fill="#fff" stroke="#000" stroke-width="1.55"/>
<circle cx="1930.3" cy="203.4" r="3.4" fill="#fff" stroke="#000" stroke-width="1.55"/>
<circle cx="1940" cy="215.7" r="3.4" fill="#fff" stroke="#000" stroke-width="1.55"/>
<circle cx="1946.8" cy="215.3" r="3.4" fill="#fff" stroke="#000" stroke-width="1.55"/>
<circle cx="1953.7" cy="215.3" r="3.4" fill="#fff" stroke="#000" stroke-width="1.55"/>
<text x="1850.9" y="32.5" text-anchor="middle" font-size="20.35">HUVEC</text>
<text transform="translate(1767.4 272.3) rotate(-45)" text-anchor="end">0</text>
<text transform="translate(1790.9 272.3) rotate(-45)" text-anchor="end">0.5</text>
<text transform="translate(1814.5 272.3) rotate(-45)" text-anchor="end">1.0</text>
<text transform="translate(1838.1 272.3) rotate(-45)" text-anchor="end">2.0</text>
<text transform="translate(1882.1 272.3) rotate(-45)" text-anchor="end">0</text>
<text transform="translate(1905.8 272.3) rotate(-45)" text-anchor="end">0.5</text>
<text transform="translate(1929.3 272.3) rotate(-45)" text-anchor="end">1.0</text>
<text transform="translate(1952.8 272.3) rotate(-45)" text-anchor="end">2.0</text>
<text x="1898.3" y="172.8" text-anchor="middle" font-size="12" stroke="#000" stroke-width="0.35">***</text>
<text x="1924.2" y="189.9" text-anchor="middle" font-size="12" stroke="#000" stroke-width="0.35">***</text>
<text x="1946.6" y="203.5" text-anchor="middle" font-size="12" stroke="#000" stroke-width="0.35">****</text>
</g>
<g>
<rect x="112.3" y="424.9" width="18.5" height="160.8"/>
<rect x="132.3" y="413.1" width="18.5" height="172.6"/>
<rect x="152.2" y="399.2" width="18.6" height="186.5"/>
<rect x="172" y="407.7" width="18.1" height="178"/>
<rect x="211.45" y="405.65" width="15.8" height="180.05" fill="#fff" stroke="#000" stroke-width="2.9"/>
<rect x="231.45" y="543.95" width="14.6" height="41.75" fill="#fff" stroke="#000" stroke-width="2.9"/>
<rect x="251.45" y="572.7" width="14.6" height="13" fill="#fff" stroke="#000" stroke-width="2.9"/>
<rect x="270.95" y="577.7" width="15.1" height="8" fill="#fff" stroke="#000" stroke-width="2.9"/>
<path d="M103.1 390.4L103.1 587.5" stroke="#000" stroke-width="3.6"/>
<path d="M89.7 585.7L298.75 585.7" stroke="#000" stroke-width="3.6"/>
<path d="M89.7 392.2L103.1 392.2" stroke="#000" stroke-width="3.6"/>
<text x="86.5" y="398.53" text-anchor="end" font-size="20.5">1.2</text>
<path d="M89.7 424.45L103.1 424.45" stroke="#000" stroke-width="3.6"/>
<text x="86.5" y="430.78" text-anchor="end" font-size="20.5">1.0</text>
<path d="M89.7 456.7L103.1 456.7" stroke="#000" stroke-width="3.6"/>
<text x="86.5" y="463.03" text-anchor="end" font-size="20.5">0.8</text>
<path d="M89.7 488.95L103.1 488.95" stroke="#000" stroke-width="3.6"/>
<text x="86.5" y="495.28" text-anchor="end" font-size="20.5">0.6</text>
<path d="M89.7 521.2L103.1 521.2" stroke="#000" stroke-width="3.6"/>
<text x="86.5" y="527.53" text-anchor="end" font-size="20.5">0.4</text>
<path d="M89.7 553.45L103.1 553.45" stroke="#000" stroke-width="3.6"/>
<text x="86.5" y="559.78" text-anchor="end" font-size="20.5">0.2</text>
<text x="86.5" y="592.03" text-anchor="end" font-size="20.5">0.0</text>
<path d="M121.6 585.7L121.6 595.9" stroke="#000" stroke-width="3.2"/>
<path d="M141.25 585.7L141.25 595.9" stroke="#000" stroke-width="3.2"/>
<path d="M161 585.7L161 595.9" stroke="#000" stroke-width="3.2"/>
<path d="M180.4 585.7L180.4 595.9" stroke="#000" stroke-width="3.2"/>
<path d="M219 585.7L219 595.9" stroke="#000" stroke-width="3.2"/>
<path d="M238.75 585.7L238.75 595.9" stroke="#000" stroke-width="3.2"/>
<path d="M258.5 585.7L258.5 595.9" stroke="#000" stroke-width="3.2"/>
<path d="M278.1 585.7L278.1 595.9" stroke="#000" stroke-width="3.2"/>
<path d="M121.7 413L121.7 435.6M116.95 413L126.45 413M116.95 435.6L126.45 435.6" stroke="#353535" stroke-width="1.6" fill="none"/>
<path d="M141.4 400.3L141.4 425.6M136.65 400.3L146.15 400.3M136.65 425.6L146.15 425.6" stroke="#353535" stroke-width="1.6" fill="none"/>
<path d="M161.3 397.8L161.3 409.4M156.55 397.8L166.05 397.8M156.55 409.4L166.05 409.4" stroke="#353535" stroke-width="1.6" fill="none"/>
<path d="M180.6 402L180.6 413.9M175.85 402L185.35 402M175.85 413.9L185.35 413.9" stroke="#353535" stroke-width="1.6" fill="none"/>
<path d="M219.1 394.4L219.1 413.9M214.35 394.4L223.85 394.4M214.35 413.9L223.85 413.9" stroke="#353535" stroke-width="1.6" fill="none"/>
<circle cx="121.7" cy="419.7" r="3.4" fill="#fff" stroke="#000" stroke-width="1.55"/>
<circle cx="127.8" cy="416.7" r="3.4" fill="#fff" stroke="#000" stroke-width="1.55"/>
<circle cx="121.7" cy="437.8" r="3.4" fill="#fff" stroke="#000" stroke-width="1.55"/>
<circle cx="141.4" cy="398.1" r="3.4" fill="#fff" stroke="#000" stroke-width="1.55"/>
<circle cx="135.3" cy="422.8" r="3.4" fill="#fff" stroke="#000" stroke-width="1.55"/>
<circle cx="147.4" cy="417.8" r="3.4" fill="#fff" stroke="#000" stroke-width="1.55"/>
<circle cx="161.3" cy="396.9" r="3.4" fill="#fff" stroke="#000" stroke-width="1.55"/>
<circle cx="161.3" cy="410" r="3.4" fill="#fff" stroke="#000" stroke-width="1.55"/>
<circle cx="180.6" cy="401.4" r="3.4" fill="#fff" stroke="#000" stroke-width="1.55"/>
<circle cx="186.9" cy="407" r="3.4" fill="#fff" stroke="#000" stroke-width="1.55"/>
<circle cx="180.6" cy="413.9" r="3.4" fill="#fff" stroke="#000" stroke-width="1.55"/>
<circle cx="219.1" cy="393.7" r="3.4" fill="#fff" stroke="#000" stroke-width="1.55"/>
<circle cx="212.8" cy="410.2" r="3.4" fill="#fff" stroke="#000" stroke-width="1.55"/>
<circle cx="225.2" cy="409.4" r="3.4" fill="#fff" stroke="#000" stroke-width="1.55"/>
<circle cx="233.25" cy="542.5" r="3.4" fill="#fff" stroke="#000" stroke-width="1.55"/>
<circle cx="239.25" cy="540.5" r="3.4" fill="#fff" stroke="#000" stroke-width="1.55"/>
<circle cx="245" cy="541.75" r="3.4" fill="#fff" stroke="#000" stroke-width="1.55"/>
<circle cx="253.25" cy="570.75" r="3.4" fill="#fff" stroke="#000" stroke-width="1.55"/>
<circle cx="259.25" cy="568.75" r="3.4" fill="#fff" stroke="#000" stroke-width="1.55"/>
<circle cx="265" cy="569.5" r="3.4" fill="#fff" stroke="#000" stroke-width="1.55"/>
<circle cx="273.25" cy="575" r="3.4" fill="#fff" stroke="#000" stroke-width="1.55"/>
<circle cx="279.25" cy="573.75" r="3.4" fill="#fff" stroke="#000" stroke-width="1.55"/>
<circle cx="285" cy="575" r="3.4" fill="#fff" stroke="#000" stroke-width="1.55"/>
<text x="204.4" y="375.75" text-anchor="middle" font-size="20.35">SW13</text>
<text transform="translate(128.4 612.5) rotate(-45)" text-anchor="end">0</text>
<text transform="translate(152.05 613.6) rotate(-45)" text-anchor="end">0.05</text>
<text transform="translate(176.3 615.8) rotate(-45)" text-anchor="end">0.25</text>
<text transform="translate(201.4 615.6) rotate(-45)" text-anchor="end">1.0</text>
<text transform="translate(225.8 612.5) rotate(-45)" text-anchor="end">0</text>
<text transform="translate(249.55 613.6) rotate(-45)" text-anchor="end">0.05</text>
<text transform="translate(273.8 615.8) rotate(-45)" text-anchor="end">0.25</text>
<text transform="translate(299.1 615.6) rotate(-45)" text-anchor="end">1.0</text>
<text x="239.25" y="522.85" text-anchor="middle" font-size="12" stroke="#000" stroke-width="0.35">****</text>
<text x="261.25" y="553.35" text-anchor="middle" font-size="12" stroke="#000" stroke-width="0.35">****</text>
<text x="281.25" y="567.35" text-anchor="middle" font-size="12" stroke="#000" stroke-width="0.35">****</text>
<text transform="translate(40.9 491.9) rotate(-90)" text-anchor="middle" font-size="20.1">CCHFV S RNA Level</text>
</g>
<g>
<rect x="393.1" y="445.6" width="18.15" height="138.4"/>
<rect x="413.1" y="447.7" width="17.9" height="136.3"/>
<rect x="432.75" y="450" width="18.15" height="134"/>
<rect x="452.5" y="452.9" width="17.9" height="131.1"/>
<rect x="492.05" y="447.05" width="15.5" height="136.95" fill="#fff" stroke="#000" stroke-width="2.9"/>
<rect x="511.95" y="543.45" width="15.35" height="40.55" fill="#fff" stroke="#000" stroke-width="2.9"/>
<rect x="531.95" y="561.45" width="14.85" height="22.55" fill="#fff" stroke="#000" stroke-width="2.9"/>
<rect x="551.45" y="573.95" width="15.1" height="10.05" fill="#fff" stroke="#000" stroke-width="2.9"/>
<path d="M383.2 388.95L383.2 585.8" stroke="#000" stroke-width="3.6"/>
<path d="M369.8 584L579 584" stroke="#000" stroke-width="3.6"/>
<path d="M369.8 390.75L383.2 390.75" stroke="#000" stroke-width="3.6"/>
<text x="366.6" y="397.08" text-anchor="end" font-size="20.5">1.4</text>
<path d="M369.8 418.36L383.2 418.36" stroke="#000" stroke-width="3.6"/>
<text x="366.6" y="424.69" text-anchor="end" font-size="20.5">1.2</text>
<path d="M369.8 445.96L383.2 445.96" stroke="#000" stroke-width="3.6"/>
<text x="366.6" y="452.3" text-anchor="end" font-size="20.5">1.0</text>
<path d="M369.8 473.57L383.2 473.57" stroke="#000" stroke-width="3.6"/>
<text x="366.6" y="479.91" text-anchor="end" font-size="20.5">0.8</text>
<path d="M369.8 501.18L383.2 501.18" stroke="#000" stroke-width="3.6"/>
<text x="366.6" y="507.51" text-anchor="end" font-size="20.5">0.6</text>
<path d="M369.8 528.79L383.2 528.79" stroke="#000" stroke-width="3.6"/>
<text x="366.6" y="535.12" text-anchor="end" font-size="20.5">0.4</text>
<path d="M369.8 556.39L383.2 556.39" stroke="#000" stroke-width="3.6"/>
<text x="366.6" y="562.73" text-anchor="end" font-size="20.5">0.2</text>
<text x="366.6" y="590.33" text-anchor="end" font-size="20.5">0.0</text>
<path d="M402 584L402 594.2" stroke="#000" stroke-width="3.2"/>
<path d="M421.75 584L421.75 594.2" stroke="#000" stroke-width="3.2"/>
<path d="M441.6 584L441.6 594.2" stroke="#000" stroke-width="3.2"/>
<path d="M461.25 584L461.25 594.2" stroke="#000" stroke-width="3.2"/>
<path d="M499.5 584L499.5 594.2" stroke="#000" stroke-width="3.2"/>
<path d="M519.5 584L519.5 594.2" stroke="#000" stroke-width="3.2"/>
<path d="M539.25 584L539.25 594.2" stroke="#000" stroke-width="3.2"/>
<path d="M558.75 584L558.75 594.2" stroke="#000" stroke-width="3.2"/>
<path d="M402.25 427.75L402.25 463.5M397.5 427.75L407 427.75M397.5 463.5L407 463.5" stroke="#353535" stroke-width="1.6" fill="none"/>
<path d="M422.1 427.9L422.1 466.6M417.35 427.9L426.85 427.9M417.35 466.6L426.85 466.6" stroke="#353535" stroke-width="1.6" fill="none"/>
<path d="M441.6 435L441.6 463.75M436.85 435L446.35 435M436.85 463.75L446.35 463.75" stroke="#353535" stroke-width="1.6" fill="none"/>
<path d="M461.25 438.1L461.25 467.5M456.5 438.1L466 438.1M456.5 467.5L466 467.5" stroke="#353535" stroke-width="1.6" fill="none"/>
<path d="M499.6 427.5L499.6 463.5M494.85 427.5L504.35 427.5M494.85 463.5L504.35 463.5" stroke="#353535" stroke-width="1.6" fill="none"/>
<circle cx="402.25" cy="431.5" r="3.4" fill="#fff" stroke="#000" stroke-width="1.55"/>
<circle cx="402.25" cy="439.6" r="3.4" fill="#fff" stroke="#000" stroke-width="1.55"/>
<circle cx="402.25" cy="466" r="3.4" fill="#fff" stroke="#000" stroke-width="1.55"/>
<circle cx="422.1" cy="425.25" r="3.4" fill="#fff" stroke="#000" stroke-width="1.55"/>
<circle cx="415.6" cy="461" r="3.4" fill="#fff" stroke="#000" stroke-width="1.55"/>
<circle cx="428.1" cy="455.9" r="3.4" fill="#fff" stroke="#000" stroke-width="1.55"/>
<circle cx="441.6" cy="434.75" r="3.4" fill="#fff" stroke="#000" stroke-width="1.55"/>
<circle cx="441.6" cy="451.5" r="3.4" fill="#fff" stroke="#000" stroke-width="1.55"/>
<circle cx="441.6" cy="463.1" r="3.4" fill="#fff" stroke="#000" stroke-width="1.55"/>
<circle cx="461.25" cy="441.25" r="3.4" fill="#fff" stroke="#000" stroke-width="1.55"/>
<circle cx="461.25" cy="448.5" r="3.4" fill="#fff" stroke="#000" stroke-width="1.55"/>
<circle cx="461.25" cy="468.75" r="3.4" fill="#fff" stroke="#000" stroke-width="1.55"/>
<circle cx="499.6" cy="431.5" r="3.4" fill="#fff" stroke="#000" stroke-width="1.55"/>
<circle cx="499.6" cy="439.6" r="3.4" fill="#fff" stroke="#000" stroke-width="1.55"/>
<circle cx="499.6" cy="466.25" r="3.4" fill="#fff" stroke="#000" stroke-width="1.55"/>
<circle cx="517.5" cy="539.25" r="3.4" fill="#fff" stroke="#000" stroke-width="1.55"/>
<circle cx="526" cy="539.25" r="3.4" fill="#fff" stroke="#000" stroke-width="1.55"/>
<circle cx="520" cy="546.25" r="3.4" fill="#fff" stroke="#000" stroke-width="1.55"/>
<circle cx="533.25" cy="560" r="3.4" fill="#fff" stroke="#000" stroke-width="1.55"/>
<circle cx="539.5" cy="558.75" r="3.4" fill="#fff" stroke="#000" stroke-width="1.55"/>
<circle cx="545" cy="559.25" r="3.4" fill="#fff" stroke="#000" stroke-width="1.55"/>
<circle cx="553.25" cy="573" r="3.4" fill="#fff" stroke="#000" stroke-width="1.55"/>
<circle cx="559.25" cy="570" r="3.4" fill="#fff" stroke="#000" stroke-width="1.55"/>
<circle cx="565" cy="572.5" r="3.4" fill="#fff" stroke="#000" stroke-width="1.55"/>
<text x="495.6" y="377.5" text-anchor="middle" font-size="20.35">SW13</text>
<text transform="translate(407.1 612.4) rotate(-45)" text-anchor="end">0</text>
<text transform="translate(429.4 611.9) rotate(-45)" text-anchor="end">0.25</text>
<text transform="translate(448.5 614.6) rotate(-45)" text-anchor="end">0.5</text>
<text transform="translate(470.5 612.7) rotate(-45)" text-anchor="end">1.0</text>
<text transform="translate(504.6 612.4) rotate(-45)" text-anchor="end">0</text>
<text transform="translate(527.15 611.9) rotate(-45)" text-anchor="end">0.25</text>
<text transform="translate(546.15 614.6) rotate(-45)" text-anchor="end">0.5</text>
<text transform="translate(568 612.7) rotate(-45)" text-anchor="end">1.0</text>
<text x="520" y="522.85" text-anchor="middle" font-size="12" stroke="#000" stroke-width="0.35">**</text>
<text x="538.75" y="544.85" text-anchor="middle" font-size="12" stroke="#000" stroke-width="0.35">***</text>
<text x="559.25" y="561.6" text-anchor="middle" font-size="12" stroke="#000" stroke-width="0.35">***</text>
</g>
<g>
<rect x="688.3" y="447" width="17.4" height="137.8"/>
<rect x="706.7" y="426.1" width="17.5" height="158.7"/>
<rect x="725.4" y="450.7" width="17.1" height="134.1"/>
<rect x="762.55" y="418.95" width="14.7" height="165.85" fill="#fff" stroke="#000" stroke-width="2.9"/>
<rect x="781.25" y="524.95" width="14.3" height="59.85" fill="#fff" stroke="#000" stroke-width="2.9"/>
<rect x="799.75" y="553.65" width="14.5" height="31.15" fill="#fff" stroke="#000" stroke-width="2.9"/>
<path d="M678.9 389.45L678.9 586.6" stroke="#000" stroke-width="3.6"/>
<path d="M665.5 584.8L826 584.8" stroke="#000" stroke-width="3.6"/>
<path d="M665.5 391.25L678.9 391.25" stroke="#000" stroke-width="3.6"/>
<text x="662.3" y="397.58" text-anchor="end" font-size="20.5">1.4</text>
<path d="M665.5 418.9L678.9 418.9" stroke="#000" stroke-width="3.6"/>
<text x="662.3" y="425.23" text-anchor="end" font-size="20.5">1.2</text>
<path d="M665.5 446.55L678.9 446.55" stroke="#000" stroke-width="3.6"/>
<text x="662.3" y="452.88" text-anchor="end" font-size="20.5">1.0</text>
<path d="M665.5 474.2L678.9 474.2" stroke="#000" stroke-width="3.6"/>
<text x="662.3" y="480.53" text-anchor="end" font-size="20.5">0.8</text>
<path d="M665.5 501.85L678.9 501.85" stroke="#000" stroke-width="3.6"/>
<text x="662.3" y="508.18" text-anchor="end" font-size="20.5">0.6</text>
<path d="M665.5 529.5L678.9 529.5" stroke="#000" stroke-width="3.6"/>
<text x="662.3" y="535.83" text-anchor="end" font-size="20.5">0.4</text>
<path d="M665.5 557.15L678.9 557.15" stroke="#000" stroke-width="3.6"/>
<text x="662.3" y="563.48" text-anchor="end" font-size="20.5">0.2</text>
<text x="662.3" y="591.13" text-anchor="end" font-size="20.5">0.0</text>
<path d="M696.75 584.8L696.75 595" stroke="#000" stroke-width="3.2"/>
<path d="M715.5 584.8L715.5 595" stroke="#000" stroke-width="3.2"/>
<path d="M733.75 584.8L733.75 595" stroke="#000" stroke-width="3.2"/>
<path d="M770.5 584.8L770.5 595" stroke="#000" stroke-width="3.2"/>
<path d="M788.25 584.8L788.25 595" stroke="#000" stroke-width="3.2"/>
<path d="M807 584.8L807 595" stroke="#000" stroke-width="3.2"/>
<path d="M696.8 438.2L696.8 455.5M692.05 438.2L701.55 438.2M692.05 455.5L701.55 455.5" stroke="#353535" stroke-width="1.6" fill="none"/>
<path d="M715.1 418.5L715.1 433.5M710.35 418.5L719.85 418.5M710.35 433.5L719.85 433.5" stroke="#353535" stroke-width="1.6" fill="none"/>
<path d="M733.6 445L733.6 456M728.85 445L738.35 445M728.85 456L738.35 456" stroke="#353535" stroke-width="1.6" fill="none"/>
<path d="M770 398.8L770 437.4M765.25 398.8L774.75 398.8M765.25 437.4L774.75 437.4" stroke="#353535" stroke-width="1.6" fill="none"/>
<circle cx="696.8" cy="435.2" r="3.4" fill="#fff" stroke="#000" stroke-width="1.55"/>
<circle cx="696.8" cy="446" r="3.4" fill="#fff" stroke="#000" stroke-width="1.55"/>
<circle cx="696.8" cy="459.2" r="3.4" fill="#fff" stroke="#000" stroke-width="1.55"/>
<circle cx="720.8" cy="420.6" r="3.4" fill="#fff" stroke="#000" stroke-width="1.55"/>
<circle cx="715.1" cy="423.6" r="3.4" fill="#fff" stroke="#000" stroke-width="1.55"/>
<circle cx="715.1" cy="434.4" r="3.4" fill="#fff" stroke="#000" stroke-width="1.55"/>
<circle cx="733.6" cy="448" r="3.4" fill="#fff" stroke="#000" stroke-width="1.55"/>
<circle cx="739.5" cy="447" r="3.4" fill="#fff" stroke="#000" stroke-width="1.55"/>
<circle cx="733.6" cy="457.1" r="3.4" fill="#fff" stroke="#000" stroke-width="1.55"/>
<circle cx="770" cy="395.6" r="3.4" fill="#fff" stroke="#000" stroke-width="1.55"/>
<circle cx="770" cy="423.6" r="3.4" fill="#fff" stroke="#000" stroke-width="1.55"/>
<circle cx="770" cy="433.8" r="3.4" fill="#fff" stroke="#000" stroke-width="1.55"/>
<circle cx="782.8" cy="524.8" r="3.4" fill="#fff" stroke="#000" stroke-width="1.55"/>
<circle cx="788.4" cy="518.1" r="3.4" fill="#fff" stroke="#000" stroke-width="1.55"/>
<circle cx="794" cy="520.5" r="3.4" fill="#fff" stroke="#000" stroke-width="1.55"/>
<circle cx="801.5" cy="552.6" r="3.4" fill="#fff" stroke="#000" stroke-width="1.55"/>
<circle cx="807.1" cy="549.2" r="3.4" fill="#fff" stroke="#000" stroke-width="1.55"/>
<circle cx="812.8" cy="551.2" r="3.4" fill="#fff" stroke="#000" stroke-width="1.55"/>
<text x="756.25" y="375.75" text-anchor="middle" font-size="20.35">Huh7</text>
<text transform="translate(703.2 610.1) rotate(-45)" text-anchor="end">0</text>
<text transform="translate(727 609.9) rotate(-45)" text-anchor="end">0.25</text>
<text transform="translate(747.6 612.6) rotate(-45)" text-anchor="end">1.0</text>
<text transform="translate(776.9 610.1) rotate(-45)" text-anchor="end">0</text>
<text transform="translate(801.3 609.2) rotate(-45)" text-anchor="end">0.25</text>
<text transform="translate(823.8 612.6) rotate(-45)" text-anchor="end">1.0</text>
<text x="789.4" y="511.1" text-anchor="middle" font-size="12" stroke="#000" stroke-width="0.35">****</text>
<text x="808.1" y="541.2" text-anchor="middle" font-size="12" stroke="#000" stroke-width="0.35">****</text>
</g>
<g>
<rect x="886.1" y="423" width="17.4" height="161.1"/>
<rect x="904.8" y="421.2" width="17.2" height="162.9"/>
<rect x="923.3" y="422" width="17.3" height="162.1"/>
<rect x="960.85" y="456.45" width="14.5" height="127.65" fill="#fff" stroke="#000" stroke-width="2.9"/>
<rect x="979.35" y="481.15" width="14.2" height="102.95" fill="#fff" stroke="#000" stroke-width="2.9"/>
<rect x="997.85" y="532.75" width="14.5" height="51.35" fill="#fff" stroke="#000" stroke-width="2.9"/>
<path d="M877.2 388.5L877.2 585.9" stroke="#000" stroke-width="3.6"/>
<path d="M863.8 584.1L1023.6 584.1" stroke="#000" stroke-width="3.6"/>
<path d="M863.8 390.3L877.2 390.3" stroke="#000" stroke-width="3.6"/>
<text x="860.6" y="396.63" text-anchor="end" font-size="20.5">1.2</text>
<path d="M863.8 422.6L877.2 422.6" stroke="#000" stroke-width="3.6"/>
<text x="860.6" y="428.93" text-anchor="end" font-size="20.5">1.0</text>
<path d="M863.8 454.9L877.2 454.9" stroke="#000" stroke-width="3.6"/>
<text x="860.6" y="461.23" text-anchor="end" font-size="20.5">0.8</text>
<path d="M863.8 487.2L877.2 487.2" stroke="#000" stroke-width="3.6"/>
<text x="860.6" y="493.53" text-anchor="end" font-size="20.5">0.6</text>
<path d="M863.8 519.5L877.2 519.5" stroke="#000" stroke-width="3.6"/>
<text x="860.6" y="525.83" text-anchor="end" font-size="20.5">0.4</text>
<path d="M863.8 551.8L877.2 551.8" stroke="#000" stroke-width="3.6"/>
<text x="860.6" y="558.13" text-anchor="end" font-size="20.5">0.2</text>
<text x="860.6" y="590.43" text-anchor="end" font-size="20.5">0.0</text>
<path d="M894.75 584.1L894.75 594.3" stroke="#000" stroke-width="3.2"/>
<path d="M913 584.1L913 594.3" stroke="#000" stroke-width="3.2"/>
<path d="M931.5 584.1L931.5 594.3" stroke="#000" stroke-width="3.2"/>
<path d="M967.75 584.1L967.75 594.3" stroke="#000" stroke-width="3.2"/>
<path d="M986 584.1L986 594.3" stroke="#000" stroke-width="3.2"/>
<path d="M1004.75 584.1L1004.75 594.3" stroke="#000" stroke-width="3.2"/>
<path d="M894.5 404.3L894.5 441.5M889.75 404.3L899.25 404.3M889.75 441.5L899.25 441.5" stroke="#353535" stroke-width="1.6" fill="none"/>
<path d="M913.2 414L913.2 428.7M908.45 414L917.95 414M908.45 428.7L917.95 428.7" stroke="#353535" stroke-width="1.6" fill="none"/>
<path d="M932.1 417.1L932.1 427M927.35 417.1L936.85 417.1M927.35 427L936.85 427" stroke="#353535" stroke-width="1.6" fill="none"/>
<path d="M968 406.7L968 502.2M963.25 406.7L972.75 406.7M963.25 502.2L972.75 502.2" stroke="#353535" stroke-width="1.6" fill="none"/>
<path d="M986.5 467.9L986.5 490M981.75 467.9L991.25 467.9M981.75 490L991.25 490" stroke="#353535" stroke-width="1.6" fill="none"/>
<circle cx="894.5" cy="400.8" r="3.4" fill="#fff" stroke="#000" stroke-width="1.55"/>
<circle cx="894.5" cy="430.1" r="3.4" fill="#fff" stroke="#000" stroke-width="1.55"/>
<circle cx="894.5" cy="437.2" r="3.4" fill="#fff" stroke="#000" stroke-width="1.55"/>
<circle cx="913.2" cy="410.8" r="3.4" fill="#fff" stroke="#000" stroke-width="1.55"/>
<circle cx="907.3" cy="427.7" r="3.4" fill="#fff" stroke="#000" stroke-width="1.55"/>
<circle cx="918.5" cy="423.6" r="3.4" fill="#fff" stroke="#000" stroke-width="1.55"/>
<circle cx="931.7" cy="421.2" r="3.4" fill="#fff" stroke="#000" stroke-width="1.55"/>
<circle cx="937.4" cy="417.9" r="3.4" fill="#fff" stroke="#000" stroke-width="1.55"/>
<circle cx="931.7" cy="427.3" r="3.4" fill="#fff" stroke="#000" stroke-width="1.55"/>
<circle cx="962.6" cy="427.7" r="3.4" fill="#fff" stroke="#000" stroke-width="1.55"/>
<circle cx="968.3" cy="427.3" r="3.4" fill="#fff" stroke="#000" stroke-width="1.55"/>
<circle cx="968" cy="510.4" r="3.4" fill="#fff" stroke="#000" stroke-width="1.55"/>
<circle cx="986.5" cy="467.9" r="3.4" fill="#fff" stroke="#000" stroke-width="1.55"/>
<circle cx="980.9" cy="488.2" r="3.4" fill="#fff" stroke="#000" stroke-width="1.55"/>
<circle cx="992" cy="483" r="3.4" fill="#fff" stroke="#000" stroke-width="1.55"/>
<circle cx="999.5" cy="535" r="3.4" fill="#fff" stroke="#000" stroke-width="1.55"/>
<circle cx="1005.2" cy="529.3" r="3.4" fill="#fff" stroke="#000" stroke-width="1.55"/>
<circle cx="1010.7" cy="529.7" r="3.4" fill="#fff" stroke="#000" stroke-width="1.55"/>
<text x="953.75" y="373.75" text-anchor="middle" font-size="20.35">Vero E6</text>
<text transform="translate(902.6 608.2) rotate(-45)" text-anchor="end">0</text>
<text transform="translate(924.5 608) rotate(-45)" text-anchor="end">0.25</text>
<text transform="translate(948.8 605.7) rotate(-45)" text-anchor="end">1.0</text>
<text transform="translate(976.9 608.2) rotate(-45)" text-anchor="end">0</text>
<text transform="translate(998.8 608.6) rotate(-45)" text-anchor="end">0.25</text>
<text transform="translate(1023.8 606.4) rotate(-45)" text-anchor="end">1.0</text>
<text x="987.4" y="452.2" text-anchor="middle" font-size="12" stroke="#000" stroke-width="0.35">**</text>
<text x="1006" y="518.8" text-anchor="middle" font-size="12" stroke="#000" stroke-width="0.35">***</text>
</g>
<g>
<rect x="1089.1" y="424.4" width="17.4" height="160.4"/>
<rect x="1107.8" y="432.4" width="17.2" height="152.4"/>
<rect x="1126.3" y="413.9" width="17.4" height="170.9"/>
<rect x="1163.75" y="438.35" width="14.5" height="146.45" fill="#fff" stroke="#000" stroke-width="2.9"/>
<rect x="1182.35" y="552.45" width="14.2" height="32.35" fill="#fff" stroke="#000" stroke-width="2.9"/>
<rect x="1200.75" y="572.45" width="14.5" height="12.35" fill="#fff" stroke="#000" stroke-width="2.9"/>
<path d="M1080.6 389.45L1080.6 586.6" stroke="#000" stroke-width="3.6"/>
<path d="M1067.2 584.8L1226.5 584.8" stroke="#000" stroke-width="3.6"/>
<path d="M1067.2 391.25L1080.6 391.25" stroke="#000" stroke-width="3.6"/>
<text x="1064" y="397.58" text-anchor="end" font-size="20.5">1.2</text>
<path d="M1067.2 423.51L1080.6 423.51" stroke="#000" stroke-width="3.6"/>
<text x="1064" y="429.84" text-anchor="end" font-size="20.5">1.0</text>
<path d="M1067.2 455.77L1080.6 455.77" stroke="#000" stroke-width="3.6"/>
<text x="1064" y="462.1" text-anchor="end" font-size="20.5">0.8</text>
<path d="M1067.2 488.02L1080.6 488.02" stroke="#000" stroke-width="3.6"/>
<text x="1064" y="494.36" text-anchor="end" font-size="20.5">0.6</text>
<path d="M1067.2 520.28L1080.6 520.28" stroke="#000" stroke-width="3.6"/>
<text x="1064" y="526.62" text-anchor="end" font-size="20.5">0.4</text>
<path d="M1067.2 552.54L1080.6 552.54" stroke="#000" stroke-width="3.6"/>
<text x="1064" y="558.88" text-anchor="end" font-size="20.5">0.2</text>
<text x="1064" y="591.13" text-anchor="end" font-size="20.5">0.0</text>
<path d="M1097.75 584.8L1097.75 595" stroke="#000" stroke-width="3.2"/>
<path d="M1116.5 584.8L1116.5 595" stroke="#000" stroke-width="3.2"/>
<path d="M1135.25 584.8L1135.25 595" stroke="#000" stroke-width="3.2"/>
<path d="M1171.5 584.8L1171.5 595" stroke="#000" stroke-width="3.2"/>
<path d="M1189.75 584.8L1189.75 595" stroke="#000" stroke-width="3.2"/>
<path d="M1208.5 584.8L1208.5 595" stroke="#000" stroke-width="3.2"/>
<path d="M1116.3 417.5L1116.3 447M1111.55 417.5L1121.05 417.5M1111.55 447L1121.05 447" stroke="#353535" stroke-width="1.6" fill="none"/>
<circle cx="1091.9" cy="425" r="3.4" fill="#fff" stroke="#000" stroke-width="1.55"/>
<circle cx="1098" cy="420" r="3.4" fill="#fff" stroke="#000" stroke-width="1.55"/>
<circle cx="1103.3" cy="423.2" r="3.4" fill="#fff" stroke="#000" stroke-width="1.55"/>
<circle cx="1110.4" cy="422.2" r="3.4" fill="#fff" stroke="#000" stroke-width="1.55"/>
<circle cx="1116.3" cy="426.2" r="3.4" fill="#fff" stroke="#000" stroke-width="1.55"/>
<circle cx="1116.3" cy="449.6" r="3.4" fill="#fff" stroke="#000" stroke-width="1.55"/>
<circle cx="1129.1" cy="414.9" r="3.4" fill="#fff" stroke="#000" stroke-width="1.55"/>
<circle cx="1134.8" cy="409.8" r="3.4" fill="#fff" stroke="#000" stroke-width="1.55"/>
<circle cx="1140.7" cy="412.4" r="3.4" fill="#fff" stroke="#000" stroke-width="1.55"/>
<circle cx="1165" cy="438.2" r="3.4" fill="#fff" stroke="#000" stroke-width="1.55"/>
<circle cx="1171.1" cy="430.1" r="3.4" fill="#fff" stroke="#000" stroke-width="1.55"/>
<circle cx="1176.4" cy="435.2" r="3.4" fill="#fff" stroke="#000" stroke-width="1.55"/>
<circle cx="1183.5" cy="551.2" r="3.4" fill="#fff" stroke="#000" stroke-width="1.55"/>
<circle cx="1189.4" cy="545.5" r="3.4" fill="#fff" stroke="#000" stroke-width="1.55"/>
<circle cx="1194.7" cy="549.2" r="3.4" fill="#fff" stroke="#000" stroke-width="1.55"/>
<circle cx="1202.2" cy="570.9" r="3.4" fill="#fff" stroke="#000" stroke-width="1.55"/>
<circle cx="1207.9" cy="570.5" r="3.4" fill="#fff" stroke="#000" stroke-width="1.55"/>
<circle cx="1213.8" cy="570.5" r="3.4" fill="#fff" stroke="#000" stroke-width="1.55"/>
<text x="1160.6" y="373.75" text-anchor="middle" font-size="20.35">HUVEC</text>
<text transform="translate(1104.5 610.1) rotate(-45)" text-anchor="end">0</text>
<text transform="translate(1127.6 609.9) rotate(-45)" text-anchor="end">0.25</text>
<text transform="translate(1148.8 612.6) rotate(-45)" text-anchor="end">1.0</text>
<text transform="translate(1178.2 610.1) rotate(-45)" text-anchor="end">0</text>
<text transform="translate(1201.9 609.2) rotate(-45)" text-anchor="end">0.25</text>
<text transform="translate(1225 612) rotate(-45)" text-anchor="end">1.0</text>
<text x="1189.7" y="538.4" text-anchor="middle" font-size="12" stroke="#000" stroke-width="0.35">***</text>
<text x="1208.3" y="563.8" text-anchor="middle" font-size="12" stroke="#000" stroke-width="0.35">****</text>
</g>
<g>
<rect x="1290.1" y="478.7" width="17.4" height="105.6"/>
<rect x="1308.8" y="436.9" width="17.2" height="147.4"/>
<rect x="1327.3" y="442" width="17.3" height="142.3"/>
<rect x="1364.55" y="480.15" width="14.5" height="104.15" fill="#fff" stroke="#000" stroke-width="2.9"/>
<rect x="1383.35" y="495.15" width="14.2" height="89.15" fill="#fff" stroke="#000" stroke-width="2.9"/>
<rect x="1401.75" y="518.75" width="14.5" height="65.55" fill="#fff" stroke="#000" stroke-width="2.9"/>
<path d="M1281.2 389.6L1281.2 586.1" stroke="#000" stroke-width="3.6"/>
<path d="M1267.8 584.3L1428 584.3" stroke="#000" stroke-width="3.6"/>
<path d="M1267.8 391.4L1281.2 391.4" stroke="#000" stroke-width="3.6"/>
<text x="1264.6" y="397.73" text-anchor="end" font-size="20.5">1.8</text>
<path d="M1267.8 412.83L1281.2 412.83" stroke="#000" stroke-width="3.6"/>
<text x="1264.6" y="419.17" text-anchor="end" font-size="20.5">1.6</text>
<path d="M1267.8 434.27L1281.2 434.27" stroke="#000" stroke-width="3.6"/>
<text x="1264.6" y="440.6" text-anchor="end" font-size="20.5">1.4</text>
<path d="M1267.8 455.7L1281.2 455.7" stroke="#000" stroke-width="3.6"/>
<text x="1264.6" y="462.03" text-anchor="end" font-size="20.5">1.2</text>
<path d="M1267.8 477.13L1281.2 477.13" stroke="#000" stroke-width="3.6"/>
<text x="1264.6" y="483.47" text-anchor="end" font-size="20.5">1.0</text>
<path d="M1267.8 498.57L1281.2 498.57" stroke="#000" stroke-width="3.6"/>
<text x="1264.6" y="504.9" text-anchor="end" font-size="20.5">0.8</text>
<path d="M1267.8 520L1281.2 520" stroke="#000" stroke-width="3.6"/>
<text x="1264.6" y="526.33" text-anchor="end" font-size="20.5">0.6</text>
<path d="M1267.8 541.43L1281.2 541.43" stroke="#000" stroke-width="3.6"/>
<text x="1264.6" y="547.77" text-anchor="end" font-size="20.5">0.4</text>
<path d="M1267.8 562.87L1281.2 562.87" stroke="#000" stroke-width="3.6"/>
<text x="1264.6" y="569.2" text-anchor="end" font-size="20.5">0.2</text>
<text x="1264.6" y="590.63" text-anchor="end" font-size="20.5">0.0</text>
<path d="M1299 584.3L1299 594.5" stroke="#000" stroke-width="3.2"/>
<path d="M1317.25 584.3L1317.25 594.5" stroke="#000" stroke-width="3.2"/>
<path d="M1336 584.3L1336 594.5" stroke="#000" stroke-width="3.2"/>
<path d="M1371.5 584.3L1371.5 594.5" stroke="#000" stroke-width="3.2"/>
<path d="M1390 584.3L1390 594.5" stroke="#000" stroke-width="3.2"/>
<path d="M1408.25 584.3L1408.25 594.5" stroke="#000" stroke-width="3.2"/>
<path d="M1317.4 415.5L1317.4 458M1312.65 415.5L1322.15 415.5M1312.65 458L1322.15 458" stroke="#353535" stroke-width="1.6" fill="none"/>
<path d="M1390.6 474.4L1390.6 513M1385.85 474.4L1395.35 474.4M1385.85 513L1395.35 513" stroke="#353535" stroke-width="1.6" fill="none"/>
<path d="M1409 498.8L1409 532M1404.25 498.8L1413.75 498.8M1404.25 532L1413.75 532" stroke="#353535" stroke-width="1.6" fill="none"/>
<circle cx="1293.6" cy="477.8" r="3.4" fill="#fff" stroke="#000" stroke-width="1.55"/>
<circle cx="1299.1" cy="477.8" r="3.4" fill="#fff" stroke="#000" stroke-width="1.55"/>
<circle cx="1304.8" cy="477.8" r="3.4" fill="#fff" stroke="#000" stroke-width="1.55"/>
<circle cx="1317.4" cy="411.8" r="3.4" fill="#fff" stroke="#000" stroke-width="1.55"/>
<circle cx="1317.4" cy="437.2" r="3.4" fill="#fff" stroke="#000" stroke-width="1.55"/>
<circle cx="1317.4" cy="459.8" r="3.4" fill="#fff" stroke="#000" stroke-width="1.55"/>
<circle cx="1330.2" cy="444.5" r="3.4" fill="#fff" stroke="#000" stroke-width="1.55"/>
<circle cx="1335.9" cy="437.4" r="3.4" fill="#fff" stroke="#000" stroke-width="1.55"/>
<circle cx="1341.4" cy="440.5" r="3.4" fill="#fff" stroke="#000" stroke-width="1.55"/>
<circle cx="1366.4" cy="477.8" r="3.4" fill="#fff" stroke="#000" stroke-width="1.55"/>
<circle cx="1372.3" cy="477.8" r="3.4" fill="#fff" stroke="#000" stroke-width="1.55"/>
<circle cx="1378" cy="477.8" r="3.4" fill="#fff" stroke="#000" stroke-width="1.55"/>
<circle cx="1385.1" cy="483.5" r="3.4" fill="#fff" stroke="#000" stroke-width="1.55"/>
<circle cx="1395.8" cy="482.5" r="3.4" fill="#fff" stroke="#000" stroke-width="1.55"/>
<circle cx="1390.6" cy="514.4" r="3.4" fill="#fff" stroke="#000" stroke-width="1.55"/>
<circle cx="1409" cy="498.8" r="3.4" fill="#fff" stroke="#000" stroke-width="1.55"/>
<circle cx="1409" cy="523.2" r="3.4" fill="#fff" stroke="#000" stroke-width="1.55"/>
<circle cx="1409" cy="530.3" r="3.4" fill="#fff" stroke="#000" stroke-width="1.55"/>
<text x="1358.1" y="373.75" text-anchor="middle" font-size="20.35">PBMC</text>
<text transform="translate(1305.1 610.1) rotate(-45)" text-anchor="end">0</text>
<text transform="translate(1328.8 609.9) rotate(-45)" text-anchor="end">0.25</text>
<text transform="translate(1350.1 612.6) rotate(-45)" text-anchor="end">1.0</text>
<text transform="translate(1379.4 610.1) rotate(-45)" text-anchor="end">0</text>
<text transform="translate(1403.2 609.5) rotate(-45)" text-anchor="end">0.25</text>
<text transform="translate(1426.3 612.6) rotate(-45)" text-anchor="end">1.0</text>
<text x="1409.1" y="495" text-anchor="middle" font-size="12" stroke="#000" stroke-width="0.35">*</text>
</g>
<g>
<rect x="1569.2" y="421" width="17.3" height="160"/>
<rect x="1588" y="426.7" width="17" height="154.3"/>
<rect x="1606.4" y="428" width="17.2" height="153"/>
<rect x="1643.75" y="436.15" width="14.8" height="144.85" fill="#fff" stroke="#000" stroke-width="2.9"/>
<rect x="1662.65" y="547.65" width="14.1" height="33.35" fill="#fff" stroke="#000" stroke-width="2.9"/>
<rect x="1680.95" y="550.95" width="14.6" height="30.05" fill="#fff" stroke="#000" stroke-width="2.9"/>
<path d="M1560.2 385.4L1560.2 582.8" stroke="#000" stroke-width="3.6"/>
<path d="M1546.8 581L1707.5 581" stroke="#000" stroke-width="3.6"/>
<path d="M1546.8 387.2L1560.2 387.2" stroke="#000" stroke-width="3.6"/>
<text x="1543.6" y="393.53" text-anchor="end" font-size="20.5">1.2</text>
<path d="M1546.8 419.5L1560.2 419.5" stroke="#000" stroke-width="3.6"/>
<text x="1543.6" y="425.83" text-anchor="end" font-size="20.5">1.0</text>
<path d="M1546.8 451.8L1560.2 451.8" stroke="#000" stroke-width="3.6"/>
<text x="1543.6" y="458.13" text-anchor="end" font-size="20.5">0.8</text>
<path d="M1546.8 484.1L1560.2 484.1" stroke="#000" stroke-width="3.6"/>
<text x="1543.6" y="490.43" text-anchor="end" font-size="20.5">0.6</text>
<path d="M1546.8 516.4L1560.2 516.4" stroke="#000" stroke-width="3.6"/>
<text x="1543.6" y="522.73" text-anchor="end" font-size="20.5">0.4</text>
<path d="M1546.8 548.7L1560.2 548.7" stroke="#000" stroke-width="3.6"/>
<text x="1543.6" y="555.03" text-anchor="end" font-size="20.5">0.2</text>
<text x="1543.6" y="587.33" text-anchor="end" font-size="20.5">0.0</text>
<path d="M1577.75 581L1577.75 591.2" stroke="#000" stroke-width="3.2"/>
<path d="M1596.25 581L1596.25 591.2" stroke="#000" stroke-width="3.2"/>
<path d="M1615 581L1615 591.2" stroke="#000" stroke-width="3.2"/>
<path d="M1651.25 581L1651.25 591.2" stroke="#000" stroke-width="3.2"/>
<path d="M1669.5 581L1669.5 591.2" stroke="#000" stroke-width="3.2"/>
<path d="M1688.25 581L1688.25 591.2" stroke="#000" stroke-width="3.2"/>
<circle cx="1572.2" cy="420.4" r="3.4" fill="#fff" stroke="#000" stroke-width="1.55"/>
<circle cx="1578.1" cy="418.75" r="3.4" fill="#fff" stroke="#000" stroke-width="1.55"/>
<circle cx="1583.5" cy="418.75" r="3.4" fill="#fff" stroke="#000" stroke-width="1.55"/>
<circle cx="1590.6" cy="428.75" r="3.4" fill="#fff" stroke="#000" stroke-width="1.55"/>
<circle cx="1596.2" cy="421" r="3.4" fill="#fff" stroke="#000" stroke-width="1.55"/>
<circle cx="1601.9" cy="423.5" r="3.4" fill="#fff" stroke="#000" stroke-width="1.55"/>
<circle cx="1609.4" cy="429.1" r="3.4" fill="#fff" stroke="#000" stroke-width="1.55"/>
<circle cx="1614.75" cy="420.4" r="3.4" fill="#fff" stroke="#000" stroke-width="1.55"/>
<circle cx="1620.6" cy="427.25" r="3.4" fill="#fff" stroke="#000" stroke-width="1.55"/>
<circle cx="1645.6" cy="439.4" r="3.4" fill="#fff" stroke="#000" stroke-width="1.55"/>
<circle cx="1651" cy="431" r="3.4" fill="#fff" stroke="#000" stroke-width="1.55"/>
<circle cx="1656.9" cy="433.1" r="3.4" fill="#fff" stroke="#000" stroke-width="1.55"/>
<circle cx="1664.25" cy="546.25" r="3.4" fill="#fff" stroke="#000" stroke-width="1.55"/>
<circle cx="1670" cy="544.25" r="3.4" fill="#fff" stroke="#000" stroke-width="1.55"/>
<circle cx="1675" cy="545.5" r="3.4" fill="#fff" stroke="#000" stroke-width="1.55"/>
<circle cx="1683" cy="550" r="3.4" fill="#fff" stroke="#000" stroke-width="1.55"/>
<circle cx="1688.75" cy="548" r="3.4" fill="#fff" stroke="#000" stroke-width="1.55"/>
<circle cx="1693.75" cy="548.75" r="3.4" fill="#fff" stroke="#000" stroke-width="1.55"/>
<text x="1640.6" y="370" text-anchor="middle" font-size="20.35">Hepa1-6</text>
<text transform="translate(1584.5 605.7) rotate(-45)" text-anchor="end">0</text>
<text transform="translate(1608.2 605.5) rotate(-45)" text-anchor="end">0.25</text>
<text transform="translate(1628.8 608.2) rotate(-45)" text-anchor="end">1.0</text>
<text transform="translate(1658.2 605.7) rotate(-45)" text-anchor="end">0</text>
<text transform="translate(1682.6 604.9) rotate(-45)" text-anchor="end">0.25</text>
<text transform="translate(1705 608.2) rotate(-45)" text-anchor="end">1.0</text>
<text x="1671.25" y="534.1" text-anchor="middle" font-size="12" stroke="#000" stroke-width="0.35">****</text>
<text x="1688.75" y="543.35" text-anchor="middle" font-size="12" stroke="#000" stroke-width="0.35">****</text>
</g>
<g>
<rect x="138" y="812" width="18.1" height="138.8"/>
<rect x="157.9" y="808" width="18.1" height="142.8"/>
<rect x="177.5" y="810" width="18.1" height="140.8"/>
<rect x="197.2" y="810" width="18.1" height="140.8"/>
<rect x="236.65" y="810.75" width="15.5" height="140.05" fill="#fff" stroke="#000" stroke-width="2.9"/>
<rect x="256.95" y="890.95" width="14.85" height="59.85" fill="#fff" stroke="#000" stroke-width="2.9"/>
<rect x="276.45" y="944.7" width="15.1" height="6.1" fill="#fff" stroke="#000" stroke-width="2.9"/>
<path d="M128.3 755.9L128.3 952.6" stroke="#000" stroke-width="3.6"/>
<path d="M114.9 950.8L324.25 950.8" stroke="#000" stroke-width="3.6"/>
<path d="M114.9 757.7L128.3 757.7" stroke="#000" stroke-width="3.6"/>
<text x="111.7" y="763.32" text-anchor="end" font-size="18.2">1.4</text>
<path d="M114.9 785.29L128.3 785.29" stroke="#000" stroke-width="3.6"/>
<text x="111.7" y="790.91" text-anchor="end" font-size="18.2">1.2</text>
<path d="M114.9 812.87L128.3 812.87" stroke="#000" stroke-width="3.6"/>
<text x="111.7" y="818.5" text-anchor="end" font-size="18.2">1.0</text>
<path d="M114.9 840.46L128.3 840.46" stroke="#000" stroke-width="3.6"/>
<text x="111.7" y="846.08" text-anchor="end" font-size="18.2">0.8</text>
<path d="M114.9 868.04L128.3 868.04" stroke="#000" stroke-width="3.6"/>
<text x="111.7" y="873.67" text-anchor="end" font-size="18.2">0.6</text>
<path d="M114.9 895.63L128.3 895.63" stroke="#000" stroke-width="3.6"/>
<text x="111.7" y="901.25" text-anchor="end" font-size="18.2">0.4</text>
<path d="M114.9 923.21L128.3 923.21" stroke="#000" stroke-width="3.6"/>
<text x="111.7" y="928.84" text-anchor="end" font-size="18.2">0.2</text>
<text x="111.7" y="956.42" text-anchor="end" font-size="18.2">0.0</text>
<path d="M146.75 950.8L146.75 961" stroke="#000" stroke-width="3.2"/>
<path d="M166.75 950.8L166.75 961" stroke="#000" stroke-width="3.2"/>
<path d="M186.25 950.8L186.25 961" stroke="#000" stroke-width="3.2"/>
<path d="M205.75 950.8L205.75 961" stroke="#000" stroke-width="3.2"/>
<path d="M244.5 950.8L244.5 961" stroke="#000" stroke-width="3.2"/>
<path d="M264.25 950.8L264.25 961" stroke="#000" stroke-width="3.2"/>
<path d="M283.75 950.8L283.75 961" stroke="#000" stroke-width="3.2"/>
<path d="M303.25 950.8L303.25 961" stroke="#000" stroke-width="3.2"/>
<path d="M146.9 803.8L146.9 820.2M142.15 803.8L151.65 803.8M142.15 820.2L151.65 820.2" stroke="#353535" stroke-width="1.6" fill="none"/>
<path d="M166.7 795.8L166.7 820.2M161.95 795.8L171.45 795.8M161.95 820.2L171.45 820.2" stroke="#353535" stroke-width="1.6" fill="none"/>
<path d="M186.5 802.7L186.5 817.6M181.75 802.7L191.25 802.7M181.75 817.6L191.25 817.6" stroke="#353535" stroke-width="1.6" fill="none"/>
<path d="M206.1 791L206.1 828.3M201.35 791L210.85 791M201.35 828.3L210.85 828.3" stroke="#353535" stroke-width="1.6" fill="none"/>
<path d="M244.3 803L244.3 812M239.55 803L249.05 803M239.55 812L249.05 812" stroke="#353535" stroke-width="1.6" fill="none"/>
<circle cx="146.9" cy="810.9" r="3.4" fill="#fff" stroke="#000" stroke-width="1.55"/>
<circle cx="153" cy="804.6" r="3.4" fill="#fff" stroke="#000" stroke-width="1.55"/>
<circle cx="146.9" cy="820.7" r="3.4" fill="#fff" stroke="#000" stroke-width="1.55"/>
<circle cx="166.7" cy="802.4" r="3.4" fill="#fff" stroke="#000" stroke-width="1.55"/>
<circle cx="172.9" cy="799.7" r="3.4" fill="#fff" stroke="#000" stroke-width="1.55"/>
<circle cx="166.7" cy="822.3" r="3.4" fill="#fff" stroke="#000" stroke-width="1.55"/>
<circle cx="186.5" cy="800.9" r="3.4" fill="#fff" stroke="#000" stroke-width="1.55"/>
<circle cx="180.3" cy="815.6" r="3.4" fill="#fff" stroke="#000" stroke-width="1.55"/>
<circle cx="192.5" cy="812.8" r="3.4" fill="#fff" stroke="#000" stroke-width="1.55"/>
<circle cx="199.8" cy="799.2" r="3.4" fill="#fff" stroke="#000" stroke-width="1.55"/>
<circle cx="212.1" cy="798.9" r="3.4" fill="#fff" stroke="#000" stroke-width="1.55"/>
<circle cx="205.8" cy="831.6" r="3.4" fill="#fff" stroke="#000" stroke-width="1.55"/>
<circle cx="244.3" cy="800.3" r="3.4" fill="#fff" stroke="#000" stroke-width="1.55"/>
<circle cx="238.1" cy="809.8" r="3.4" fill="#fff" stroke="#000" stroke-width="1.55"/>
<circle cx="250.5" cy="808.7" r="3.4" fill="#fff" stroke="#000" stroke-width="1.55"/>
<circle cx="258.75" cy="892" r="3.4" fill="#fff" stroke="#000" stroke-width="1.55"/>
<circle cx="264.5" cy="887" r="3.4" fill="#fff" stroke="#000" stroke-width="1.55"/>
<circle cx="270.5" cy="891.25" r="3.4" fill="#fff" stroke="#000" stroke-width="1.55"/>
<circle cx="278.25" cy="943.25" r="3.4" fill="#fff" stroke="#000" stroke-width="1.55"/>
<circle cx="284.25" cy="942" r="3.4" fill="#fff" stroke="#000" stroke-width="1.55"/>
<circle cx="290" cy="942.75" r="3.4" fill="#fff" stroke="#000" stroke-width="1.55"/>
<circle cx="297.5" cy="949.5" r="3.4" fill="#fff" stroke="#000" stroke-width="1.55"/>
<circle cx="303.25" cy="950" r="3.4" fill="#fff" stroke="#000" stroke-width="1.55"/>
<circle cx="309.5" cy="949.5" r="3.4" fill="#fff" stroke="#000" stroke-width="1.55"/>
<text x="232.9" y="750.75" text-anchor="middle" font-size="20.35">SW13</text>
<text transform="translate(152.35 974.6) rotate(-45)" text-anchor="end">0</text>
<text transform="translate(176.35 975.7) rotate(-45)" text-anchor="end">0.05</text>
<text transform="translate(200.35 977.9) rotate(-45)" text-anchor="end">0.25</text>
<text transform="translate(225.55 977.7) rotate(-45)" text-anchor="end">1.0</text>
<text transform="translate(250.1 974.6) rotate(-45)" text-anchor="end">0</text>
<text transform="translate(273.85 975.7) rotate(-45)" text-anchor="end">0.05</text>
<text transform="translate(297.85 977.9) rotate(-45)" text-anchor="end">0.25</text>
<text transform="translate(323.05 977.7) rotate(-45)" text-anchor="end">1.0</text>
<text x="265.5" y="878.9" text-anchor="middle" font-size="12" stroke="#000" stroke-width="0.35">****</text>
<text x="285.75" y="934.1" text-anchor="middle" font-size="12" stroke="#000" stroke-width="0.35">****</text>
<text x="304.25" y="943.6" text-anchor="middle" font-size="12" stroke="#000" stroke-width="0.35">****</text>
<text transform="translate(71.25 857.6) rotate(-90)" text-anchor="middle" font-size="20.1">CCHFV <tspan font-style="italic">S</tspan> RNA Level</text>
</g>
<g>
<rect x="392.2" y="813.2" width="18.6" height="138.3"/>
<rect x="412.2" y="789.3" width="18.5" height="162.2"/>
<rect x="432" y="809.2" width="18.4" height="142.3"/>
<rect x="451.7" y="809.2" width="18.2" height="142.3"/>
<rect x="491.45" y="790.45" width="15.4" height="161.05" fill="#fff" stroke="#000" stroke-width="2.9"/>
<rect x="511.05" y="849.25" width="15.3" height="102.25" fill="#fff" stroke="#000" stroke-width="2.9"/>
<rect x="530.7" y="924.7" width="15.1" height="26.8" fill="#fff" stroke="#000" stroke-width="2.9"/>
<rect x="550.45" y="947.95" width="15.35" height="3.55" fill="#fff" stroke="#000" stroke-width="2.9"/>
<path d="M383 757L383 953.3" stroke="#000" stroke-width="3.6"/>
<path d="M369.6 951.5L578.5 951.5" stroke="#000" stroke-width="3.6"/>
<path d="M369.6 758.8L383 758.8" stroke="#000" stroke-width="3.6"/>
<text x="366.4" y="764.42" text-anchor="end" font-size="18.2">1.4</text>
<path d="M369.6 786.33L383 786.33" stroke="#000" stroke-width="3.6"/>
<text x="366.4" y="791.95" text-anchor="end" font-size="18.2">1.2</text>
<path d="M369.6 813.86L383 813.86" stroke="#000" stroke-width="3.6"/>
<text x="366.4" y="819.48" text-anchor="end" font-size="18.2">1.0</text>
<path d="M369.6 841.39L383 841.39" stroke="#000" stroke-width="3.6"/>
<text x="366.4" y="847.01" text-anchor="end" font-size="18.2">0.8</text>
<path d="M369.6 868.91L383 868.91" stroke="#000" stroke-width="3.6"/>
<text x="366.4" y="874.54" text-anchor="end" font-size="18.2">0.6</text>
<path d="M369.6 896.44L383 896.44" stroke="#000" stroke-width="3.6"/>
<text x="366.4" y="902.07" text-anchor="end" font-size="18.2">0.4</text>
<path d="M369.6 923.97L383 923.97" stroke="#000" stroke-width="3.6"/>
<text x="366.4" y="929.6" text-anchor="end" font-size="18.2">0.2</text>
<text x="366.4" y="957.12" text-anchor="end" font-size="18.2">0.0</text>
<path d="M401.75 951.5L401.75 961.7" stroke="#000" stroke-width="3.2"/>
<path d="M421.25 951.5L421.25 961.7" stroke="#000" stroke-width="3.2"/>
<path d="M441.25 951.5L441.25 961.7" stroke="#000" stroke-width="3.2"/>
<path d="M460.75 951.5L460.75 961.7" stroke="#000" stroke-width="3.2"/>
<path d="M498.75 951.5L498.75 961.7" stroke="#000" stroke-width="3.2"/>
<path d="M518.5 951.5L518.5 961.7" stroke="#000" stroke-width="3.2"/>
<path d="M538.5 951.5L538.5 961.7" stroke="#000" stroke-width="3.2"/>
<path d="M557.75 951.5L557.75 961.7" stroke="#000" stroke-width="3.2"/>
<path d="M401.5 805L401.5 821M396.75 805L406.25 805M396.75 821L406.25 821" stroke="#353535" stroke-width="1.6" fill="none"/>
<path d="M421.3 786L421.3 793M416.55 786L426.05 786M416.55 793L426.05 793" stroke="#353535" stroke-width="1.6" fill="none"/>
<path d="M441 801.5L441 814.2M436.25 801.5L445.75 801.5M436.25 814.2L445.75 814.2" stroke="#353535" stroke-width="1.6" fill="none"/>
<path d="M460.4 787.1L460.4 831.6M455.65 787.1L465.15 787.1M455.65 831.6L465.15 831.6" stroke="#353535" stroke-width="1.6" fill="none"/>
<path d="M498.7 783.1L498.7 795.6M493.95 783.1L503.45 783.1M493.95 795.6L503.45 795.6" stroke="#353535" stroke-width="1.6" fill="none"/>
<circle cx="401.5" cy="804" r="3.4" fill="#fff" stroke="#000" stroke-width="1.55"/>
<circle cx="401.5" cy="812.5" r="3.4" fill="#fff" stroke="#000" stroke-width="1.55"/>
<circle cx="401.5" cy="822" r="3.4" fill="#fff" stroke="#000" stroke-width="1.55"/>
<circle cx="421.3" cy="785.3" r="3.4" fill="#fff" stroke="#000" stroke-width="1.55"/>
<circle cx="415" cy="793.1" r="3.4" fill="#fff" stroke="#000" stroke-width="1.55"/>
<circle cx="427.5" cy="788.3" r="3.4" fill="#fff" stroke="#000" stroke-width="1.55"/>
<circle cx="441" cy="801.3" r="3.4" fill="#fff" stroke="#000" stroke-width="1.55"/>
<circle cx="434.7" cy="811.6" r="3.4" fill="#fff" stroke="#000" stroke-width="1.55"/>
<circle cx="447.2" cy="811.1" r="3.4" fill="#fff" stroke="#000" stroke-width="1.55"/>
<circle cx="460.4" cy="791" r="3.4" fill="#fff" stroke="#000" stroke-width="1.55"/>
<circle cx="460.4" cy="803" r="3.4" fill="#fff" stroke="#000" stroke-width="1.55"/>
<circle cx="460.4" cy="834.3" r="3.4" fill="#fff" stroke="#000" stroke-width="1.55"/>
<circle cx="504.9" cy="783.6" r="3.4" fill="#fff" stroke="#000" stroke-width="1.55"/>
<circle cx="498.7" cy="787.7" r="3.4" fill="#fff" stroke="#000" stroke-width="1.55"/>
<circle cx="498.7" cy="795.8" r="3.4" fill="#fff" stroke="#000" stroke-width="1.55"/>
<circle cx="512.4" cy="846.9" r="3.4" fill="#fff" stroke="#000" stroke-width="1.55"/>
<circle cx="518.6" cy="845" r="3.4" fill="#fff" stroke="#000" stroke-width="1.55"/>
<circle cx="524.9" cy="846.3" r="3.4" fill="#fff" stroke="#000" stroke-width="1.55"/>
<circle cx="532.75" cy="923.75" r="3.4" fill="#fff" stroke="#000" stroke-width="1.55"/>
<circle cx="538.5" cy="920.75" r="3.4" fill="#fff" stroke="#000" stroke-width="1.55"/>
<circle cx="544.25" cy="921.25" r="3.4" fill="#fff" stroke="#000" stroke-width="1.55"/>
<circle cx="552.75" cy="945" r="3.4" fill="#fff" stroke="#000" stroke-width="1.55"/>
<circle cx="558.5" cy="944.5" r="3.4" fill="#fff" stroke="#000" stroke-width="1.55"/>
<circle cx="564.25" cy="945" r="3.4" fill="#fff" stroke="#000" stroke-width="1.55"/>
<text x="490" y="752" text-anchor="middle" font-size="20.35">Huh7</text>
<text transform="translate(407.35 975.3) rotate(-45)" text-anchor="end">0</text>
<text transform="translate(430.85 976.4) rotate(-45)" text-anchor="end">0.05</text>
<text transform="translate(455.35 978.6) rotate(-45)" text-anchor="end">0.25</text>
<text transform="translate(480.55 978.4) rotate(-45)" text-anchor="end">1.0</text>
<text transform="translate(504.35 975.3) rotate(-45)" text-anchor="end">0</text>
<text transform="translate(528.1 976.4) rotate(-45)" text-anchor="end">0.05</text>
<text transform="translate(552.6 978.6) rotate(-45)" text-anchor="end">0.25</text>
<text transform="translate(577.55 978.4) rotate(-45)" text-anchor="end">1.0</text>
<text x="519.75" y="838.6" text-anchor="middle" font-size="12" stroke="#000" stroke-width="0.35">****</text>
<text x="540.25" y="914.35" text-anchor="middle" font-size="12" stroke="#000" stroke-width="0.35">****</text>
<text x="559" y="924.85" text-anchor="middle" font-size="12" stroke="#000" stroke-width="0.35">****</text>
</g>
<g>
<rect x="653.3" y="792.9" width="17.2" height="161.4"/>
<rect x="671.7" y="790.1" width="17.2" height="164.2"/>
<rect x="690.2" y="778.3" width="17.4" height="176"/>
<rect x="727.95" y="792.85" width="14.4" height="161.45" fill="#fff" stroke="#000" stroke-width="2.9"/>
<rect x="746.55" y="880.45" width="14" height="73.85" fill="#fff" stroke="#000" stroke-width="2.9"/>
<rect x="764.85" y="924.85" width="14.5" height="29.45" fill="#fff" stroke="#000" stroke-width="2.9"/>
<path d="M644 758.2L644 956.1" stroke="#000" stroke-width="3.6"/>
<path d="M630.6 954.3L791 954.3" stroke="#000" stroke-width="3.6"/>
<path d="M630.6 760L644 760" stroke="#000" stroke-width="3.6"/>
<text x="627.4" y="766.33" text-anchor="end" font-size="20.5">1.2</text>
<path d="M630.6 792.38L644 792.38" stroke="#000" stroke-width="3.6"/>
<text x="627.4" y="798.72" text-anchor="end" font-size="20.5">1.0</text>
<path d="M630.6 824.77L644 824.77" stroke="#000" stroke-width="3.6"/>
<text x="627.4" y="831.1" text-anchor="end" font-size="20.5">0.8</text>
<path d="M630.6 857.15L644 857.15" stroke="#000" stroke-width="3.6"/>
<text x="627.4" y="863.48" text-anchor="end" font-size="20.5">0.6</text>
<path d="M630.6 889.53L644 889.53" stroke="#000" stroke-width="3.6"/>
<text x="627.4" y="895.87" text-anchor="end" font-size="20.5">0.4</text>
<path d="M630.6 921.92L644 921.92" stroke="#000" stroke-width="3.6"/>
<text x="627.4" y="928.25" text-anchor="end" font-size="20.5">0.2</text>
<text x="627.4" y="960.63" text-anchor="end" font-size="20.5">0.0</text>
<path d="M661.5 954.3L661.5 964.5" stroke="#000" stroke-width="3.2"/>
<path d="M680.25 954.3L680.25 964.5" stroke="#000" stroke-width="3.2"/>
<path d="M698.5 954.3L698.5 964.5" stroke="#000" stroke-width="3.2"/>
<path d="M735.25 954.3L735.25 964.5" stroke="#000" stroke-width="3.2"/>
<path d="M753.5 954.3L753.5 964.5" stroke="#000" stroke-width="3.2"/>
<path d="M772.25 954.3L772.25 964.5" stroke="#000" stroke-width="3.2"/>
<path d="M661.9 782.4L661.9 803.8M657.15 782.4L666.65 782.4M657.15 803.8L666.65 803.8" stroke="#353535" stroke-width="1.6" fill="none"/>
<path d="M680 776.3L680 803M675.25 776.3L684.75 776.3M675.25 803L684.75 803" stroke="#353535" stroke-width="1.6" fill="none"/>
<path d="M698.9 770.2L698.9 790M694.15 770.2L703.65 770.2M694.15 790L703.65 790" stroke="#353535" stroke-width="1.6" fill="none"/>
<path d="M735.1 782.4L735.1 801.7M730.35 782.4L739.85 782.4M730.35 801.7L739.85 801.7" stroke="#353535" stroke-width="1.6" fill="none"/>
<circle cx="661.9" cy="779.4" r="3.4" fill="#fff" stroke="#000" stroke-width="1.55"/>
<circle cx="656.3" cy="800.7" r="3.4" fill="#fff" stroke="#000" stroke-width="1.55"/>
<circle cx="667.4" cy="798.1" r="3.4" fill="#fff" stroke="#000" stroke-width="1.55"/>
<circle cx="680" cy="773.3" r="3.4" fill="#fff" stroke="#000" stroke-width="1.55"/>
<circle cx="680" cy="794" r="3.4" fill="#fff" stroke="#000" stroke-width="1.55"/>
<circle cx="680" cy="802.1" r="3.4" fill="#fff" stroke="#000" stroke-width="1.55"/>
<circle cx="698.9" cy="767.2" r="3.4" fill="#fff" stroke="#000" stroke-width="1.55"/>
<circle cx="698.9" cy="778" r="3.4" fill="#fff" stroke="#000" stroke-width="1.55"/>
<circle cx="698.9" cy="790.2" r="3.4" fill="#fff" stroke="#000" stroke-width="1.55"/>
<circle cx="735.1" cy="779" r="3.4" fill="#fff" stroke="#000" stroke-width="1.55"/>
<circle cx="729.4" cy="798.7" r="3.4" fill="#fff" stroke="#000" stroke-width="1.55"/>
<circle cx="740.6" cy="795" r="3.4" fill="#fff" stroke="#000" stroke-width="1.55"/>
<circle cx="747.7" cy="882" r="3.4" fill="#fff" stroke="#000" stroke-width="1.55"/>
<circle cx="753.4" cy="873.5" r="3.4" fill="#fff" stroke="#000" stroke-width="1.55"/>
<circle cx="758.9" cy="877.3" r="3.4" fill="#fff" stroke="#000" stroke-width="1.55"/>
<circle cx="766.4" cy="923.6" r="3.4" fill="#fff" stroke="#000" stroke-width="1.55"/>
<circle cx="772.1" cy="917.5" r="3.4" fill="#fff" stroke="#000" stroke-width="1.55"/>
<circle cx="777.5" cy="923" r="3.4" fill="#fff" stroke="#000" stroke-width="1.55"/>
<text x="720.4" y="748" text-anchor="middle" font-size="20.35">Vero E6</text>
<text transform="translate(669.5 977) rotate(-45)" text-anchor="end">0</text>
<text transform="translate(690.7 981.1) rotate(-45)" text-anchor="end">0.25</text>
<text transform="translate(715.1 981.4) rotate(-45)" text-anchor="end">1.0</text>
<text transform="translate(743.2 977.6) rotate(-45)" text-anchor="end">0</text>
<text transform="translate(765.1 981.7) rotate(-45)" text-anchor="end">0.25</text>
<text transform="translate(789.4 982) rotate(-45)" text-anchor="end">1.0</text>
<text x="754.8" y="868.8" text-anchor="middle" font-size="12" stroke="#000" stroke-width="0.35">***</text>
<text x="773.5" y="910.8" text-anchor="middle" font-size="12" stroke="#000" stroke-width="0.35">***</text>
</g>
<g>
<rect x="864.2" y="791.4" width="17.2" height="162.7"/>
<rect x="882.5" y="819.2" width="17.2" height="134.9"/>
<rect x="900.9" y="835.2" width="17.4" height="118.9"/>
<rect x="938.55" y="805.65" width="14.5" height="148.45" fill="#fff" stroke="#000" stroke-width="2.9"/>
<rect x="956.65" y="946.25" width="14.5" height="7.85" fill="#fff" stroke="#000" stroke-width="2.9"/>
<path d="M854.9 758L854.9 955.9" stroke="#000" stroke-width="3.6"/>
<path d="M841.5 954.1L1002 954.1" stroke="#000" stroke-width="3.6"/>
<path d="M841.5 759.8L854.9 759.8" stroke="#000" stroke-width="3.6"/>
<text x="838.3" y="766.13" text-anchor="end" font-size="20.5">1.2</text>
<path d="M841.5 792.18L854.9 792.18" stroke="#000" stroke-width="3.6"/>
<text x="838.3" y="798.52" text-anchor="end" font-size="20.5">1.0</text>
<path d="M841.5 824.57L854.9 824.57" stroke="#000" stroke-width="3.6"/>
<text x="838.3" y="830.9" text-anchor="end" font-size="20.5">0.8</text>
<path d="M841.5 856.95L854.9 856.95" stroke="#000" stroke-width="3.6"/>
<text x="838.3" y="863.28" text-anchor="end" font-size="20.5">0.6</text>
<path d="M841.5 889.33L854.9 889.33" stroke="#000" stroke-width="3.6"/>
<text x="838.3" y="895.67" text-anchor="end" font-size="20.5">0.4</text>
<path d="M841.5 921.72L854.9 921.72" stroke="#000" stroke-width="3.6"/>
<text x="838.3" y="928.05" text-anchor="end" font-size="20.5">0.2</text>
<text x="838.3" y="960.43" text-anchor="end" font-size="20.5">0.0</text>
<path d="M872.5 954.1L872.5 964.3" stroke="#000" stroke-width="3.2"/>
<path d="M890.75 954.1L890.75 964.3" stroke="#000" stroke-width="3.2"/>
<path d="M909.25 954.1L909.25 964.3" stroke="#000" stroke-width="3.2"/>
<path d="M945.5 954.1L945.5 964.3" stroke="#000" stroke-width="3.2"/>
<path d="M964.25 954.1L964.25 964.3" stroke="#000" stroke-width="3.2"/>
<path d="M982.5 954.1L982.5 964.3" stroke="#000" stroke-width="3.2"/>
<path d="M872.6 774.3L872.6 808M867.85 774.3L877.35 774.3M867.85 808L877.35 808" stroke="#353535" stroke-width="1.6" fill="none"/>
<path d="M891.3 799.7L891.3 838.3M886.55 799.7L896.05 799.7M886.55 838.3L896.05 838.3" stroke="#353535" stroke-width="1.6" fill="none"/>
<path d="M909.8 823L909.8 848.5M905.05 823L914.55 823M905.05 848.5L914.55 848.5" stroke="#353535" stroke-width="1.6" fill="none"/>
<path d="M945.8 788.5L945.8 821M941.05 788.5L950.55 788.5M941.05 821L950.55 821" stroke="#353535" stroke-width="1.6" fill="none"/>
<circle cx="872.6" cy="770.6" r="3.4" fill="#fff" stroke="#000" stroke-width="1.55"/>
<circle cx="872.6" cy="793.6" r="3.4" fill="#fff" stroke="#000" stroke-width="1.55"/>
<circle cx="872.6" cy="809.2" r="3.4" fill="#fff" stroke="#000" stroke-width="1.55"/>
<circle cx="891.3" cy="797.1" r="3.4" fill="#fff" stroke="#000" stroke-width="1.55"/>
<circle cx="885.4" cy="832.2" r="3.4" fill="#fff" stroke="#000" stroke-width="1.55"/>
<circle cx="896.6" cy="827.7" r="3.4" fill="#fff" stroke="#000" stroke-width="1.55"/>
<circle cx="909.8" cy="819.6" r="3.4" fill="#fff" stroke="#000" stroke-width="1.55"/>
<circle cx="904.1" cy="845.4" r="3.4" fill="#fff" stroke="#000" stroke-width="1.55"/>
<circle cx="915.3" cy="839.3" r="3.4" fill="#fff" stroke="#000" stroke-width="1.55"/>
<circle cx="945.8" cy="785.1" r="3.4" fill="#fff" stroke="#000" stroke-width="1.55"/>
<circle cx="945.8" cy="810.3" r="3.4" fill="#fff" stroke="#000" stroke-width="1.55"/>
<circle cx="945.8" cy="818" r="3.4" fill="#fff" stroke="#000" stroke-width="1.55"/>
<circle cx="958.6" cy="944" r="3.4" fill="#fff" stroke="#000" stroke-width="1.55"/>
<circle cx="964.1" cy="940.3" r="3.4" fill="#fff" stroke="#000" stroke-width="1.55"/>
<circle cx="969.7" cy="942.3" r="3.4" fill="#fff" stroke="#000" stroke-width="1.55"/>
<circle cx="977.3" cy="952.5" r="3.4" fill="#fff" stroke="#000" stroke-width="1.55"/>
<circle cx="982.7" cy="951.7" r="3.4" fill="#fff" stroke="#000" stroke-width="1.55"/>
<circle cx="988" cy="952.5" r="3.4" fill="#fff" stroke="#000" stroke-width="1.55"/>
<text x="931.9" y="747.5" text-anchor="middle" font-size="20.35">Hepa1-6</text>
<text transform="translate(880.1 976.4) rotate(-45)" text-anchor="end">0</text>
<text transform="translate(901.3 980.5) rotate(-45)" text-anchor="end">0.25</text>
<text transform="translate(925.7 980.7) rotate(-45)" text-anchor="end">1.0</text>
<text transform="translate(954.4 977) rotate(-45)" text-anchor="end">0</text>
<text transform="translate(975.7 981.1) rotate(-45)" text-anchor="end">0.25</text>
<text transform="translate(1000 982) rotate(-45)" text-anchor="end">1.0</text>
<text x="965.3" y="930.9" text-anchor="middle" font-size="12" stroke="#000" stroke-width="0.35">****</text>
<text x="984" y="944.9" text-anchor="middle" font-size="12" stroke="#000" stroke-width="0.35">****</text>
</g>
<g>
<rect x="1249.9" y="834.1" width="17.4" height="121.3"/>
<rect x="1268.6" y="816.1" width="17.2" height="139.3"/>
<rect x="1287.1" y="796.8" width="17.4" height="158.6"/>
<rect x="1324.55" y="802.15" width="14.5" height="153.25" fill="#fff" stroke="#000" stroke-width="2.9"/>
<rect x="1343.25" y="821.65" width="14.4" height="133.75" fill="#fff" stroke="#000" stroke-width="2.9"/>
<rect x="1361.85" y="836.85" width="14.3" height="118.55" fill="#fff" stroke="#000" stroke-width="2.9"/>
<path d="M1240.6 759.45L1240.6 957.2" stroke="#000" stroke-width="3.6"/>
<path d="M1227.2 955.4L1387.6 955.4" stroke="#000" stroke-width="3.6"/>
<path d="M1227.2 761.25L1240.6 761.25" stroke="#000" stroke-width="3.6"/>
<text x="1224" y="767.58" text-anchor="end" font-size="20.5">1.6</text>
<path d="M1227.2 785.52L1240.6 785.52" stroke="#000" stroke-width="3.6"/>
<text x="1224" y="791.85" text-anchor="end" font-size="20.5">1.4</text>
<path d="M1227.2 809.79L1240.6 809.79" stroke="#000" stroke-width="3.6"/>
<text x="1224" y="816.12" text-anchor="end" font-size="20.5">1.2</text>
<path d="M1227.2 834.06L1240.6 834.06" stroke="#000" stroke-width="3.6"/>
<text x="1224" y="840.39" text-anchor="end" font-size="20.5">1.0</text>
<path d="M1227.2 858.33L1240.6 858.33" stroke="#000" stroke-width="3.6"/>
<text x="1224" y="864.66" text-anchor="end" font-size="20.5">0.8</text>
<path d="M1227.2 882.59L1240.6 882.59" stroke="#000" stroke-width="3.6"/>
<text x="1224" y="888.93" text-anchor="end" font-size="20.5">0.6</text>
<path d="M1227.2 906.86L1240.6 906.86" stroke="#000" stroke-width="3.6"/>
<text x="1224" y="913.2" text-anchor="end" font-size="20.5">0.4</text>
<path d="M1227.2 931.13L1240.6 931.13" stroke="#000" stroke-width="3.6"/>
<text x="1224" y="937.47" text-anchor="end" font-size="20.5">0.2</text>
<text x="1224" y="961.73" text-anchor="end" font-size="20.5">0.0</text>
<path d="M1258.75 955.4L1258.75 965.6" stroke="#000" stroke-width="3.2"/>
<path d="M1277.5 955.4L1277.5 965.6" stroke="#000" stroke-width="3.2"/>
<path d="M1295.75 955.4L1295.75 965.6" stroke="#000" stroke-width="3.2"/>
<path d="M1331.75 955.4L1331.75 965.6" stroke="#000" stroke-width="3.2"/>
<path d="M1350 955.4L1350 965.6" stroke="#000" stroke-width="3.2"/>
<path d="M1368.75 955.4L1368.75 965.6" stroke="#000" stroke-width="3.2"/>
<path d="M1258.8 824.1L1258.8 845M1254.05 824.1L1263.55 824.1M1254.05 845L1263.55 845" stroke="#353535" stroke-width="1.6" fill="none"/>
<path d="M1277.1 787.5L1277.1 843.4M1272.35 787.5L1281.85 787.5M1272.35 843.4L1281.85 843.4" stroke="#353535" stroke-width="1.6" fill="none"/>
<path d="M1295.7 769.2L1295.7 824.1M1290.95 769.2L1300.45 769.2M1290.95 824.1L1300.45 824.1" stroke="#353535" stroke-width="1.6" fill="none"/>
<path d="M1331.9 781.4L1331.9 819.6M1327.15 781.4L1336.65 781.4M1327.15 819.6L1336.65 819.6" stroke="#353535" stroke-width="1.6" fill="none"/>
<path d="M1350.2 797.7L1350.2 842.4M1345.45 797.7L1354.95 797.7M1345.45 842.4L1354.95 842.4" stroke="#353535" stroke-width="1.6" fill="none"/>
<path d="M1368.7 807.8L1368.7 861.1M1363.95 807.8L1373.45 807.8M1363.95 861.1L1373.45 861.1" stroke="#353535" stroke-width="1.6" fill="none"/>
<circle cx="1253.3" cy="828.1" r="3.4" fill="#fff" stroke="#000" stroke-width="1.55"/>
<circle cx="1264.1" cy="828.6" r="3.4" fill="#fff" stroke="#000" stroke-width="1.55"/>
<circle cx="1258.8" cy="845.4" r="3.4" fill="#fff" stroke="#000" stroke-width="1.55"/>
<circle cx="1277.1" cy="784.1" r="3.4" fill="#fff" stroke="#000" stroke-width="1.55"/>
<circle cx="1271.6" cy="834.2" r="3.4" fill="#fff" stroke="#000" stroke-width="1.55"/>
<circle cx="1282.7" cy="829.2" r="3.4" fill="#fff" stroke="#000" stroke-width="1.55"/>
<circle cx="1295.7" cy="766.2" r="3.4" fill="#fff" stroke="#000" stroke-width="1.55"/>
<circle cx="1295.7" cy="803.4" r="3.4" fill="#fff" stroke="#000" stroke-width="1.55"/>
<circle cx="1295.7" cy="820.4" r="3.4" fill="#fff" stroke="#000" stroke-width="1.55"/>
<circle cx="1331.9" cy="778.8" r="3.4" fill="#fff" stroke="#000" stroke-width="1.55"/>
<circle cx="1331.9" cy="808.2" r="3.4" fill="#fff" stroke="#000" stroke-width="1.55"/>
<circle cx="1331.9" cy="814.9" r="3.4" fill="#fff" stroke="#000" stroke-width="1.55"/>
<circle cx="1350.2" cy="794.2" r="3.4" fill="#fff" stroke="#000" stroke-width="1.55"/>
<circle cx="1344.7" cy="835.9" r="3.4" fill="#fff" stroke="#000" stroke-width="1.55"/>
<circle cx="1355.5" cy="829.8" r="3.4" fill="#fff" stroke="#000" stroke-width="1.55"/>
<circle cx="1368.7" cy="814.5" r="3.4" fill="#fff" stroke="#000" stroke-width="1.55"/>
<circle cx="1368.7" cy="824.7" r="3.4" fill="#fff" stroke="#000" stroke-width="1.55"/>
<circle cx="1368.7" cy="865.1" r="3.4" fill="#fff" stroke="#000" stroke-width="1.55"/>
<text x="1320.9" y="749.5" text-anchor="middle" font-size="20.35">RVFV <tspan font-style="italic">M</tspan></text>
<text transform="translate(1266.25 977) rotate(-45)" text-anchor="end">0</text>
<text transform="translate(1288 980.6) rotate(-45)" text-anchor="end">0.25</text>
<text transform="translate(1313.15 980.3) rotate(-45)" text-anchor="end">1.0</text>
<text transform="translate(1339.25 977) rotate(-45)" text-anchor="end">0</text>
<text transform="translate(1360.5 980.6) rotate(-45)" text-anchor="end">0.25</text>
<text transform="translate(1386.15 980.3) rotate(-45)" text-anchor="end">1.0</text>
<text transform="translate(1182.5 861.4) rotate(-90)" text-anchor="middle" font-size="20.45">Rel. RNA level</text>
</g>
<g>
<rect x="1457.3" y="817" width="17.4" height="137.5"/>
<rect x="1475.8" y="835.7" width="17.3" height="118.8"/>
<rect x="1494.5" y="812" width="17.2" height="142.5"/>
<rect x="1531.85" y="823.45" width="14.5" height="131.05" fill="#fff" stroke="#000" stroke-width="2.9"/>
<rect x="1550.55" y="845.85" width="14.2" height="108.65" fill="#fff" stroke="#000" stroke-width="2.9"/>
<rect x="1568.95" y="843.65" width="14.6" height="110.85" fill="#fff" stroke="#000" stroke-width="2.9"/>
<path d="M1448.3 758.7L1448.3 956.3" stroke="#000" stroke-width="3.6"/>
<path d="M1434.9 954.5L1595 954.5" stroke="#000" stroke-width="3.6"/>
<path d="M1434.9 760.5L1448.3 760.5" stroke="#000" stroke-width="3.6"/>
<text x="1431.7" y="766.83" text-anchor="end" font-size="20.5">1.4</text>
<path d="M1434.9 788.21L1448.3 788.21" stroke="#000" stroke-width="3.6"/>
<text x="1431.7" y="794.55" text-anchor="end" font-size="20.5">1.2</text>
<path d="M1434.9 815.93L1448.3 815.93" stroke="#000" stroke-width="3.6"/>
<text x="1431.7" y="822.26" text-anchor="end" font-size="20.5">1.0</text>
<path d="M1434.9 843.64L1448.3 843.64" stroke="#000" stroke-width="3.6"/>
<text x="1431.7" y="849.98" text-anchor="end" font-size="20.5">0.8</text>
<path d="M1434.9 871.36L1448.3 871.36" stroke="#000" stroke-width="3.6"/>
<text x="1431.7" y="877.69" text-anchor="end" font-size="20.5">0.6</text>
<path d="M1434.9 899.07L1448.3 899.07" stroke="#000" stroke-width="3.6"/>
<text x="1431.7" y="905.41" text-anchor="end" font-size="20.5">0.4</text>
<path d="M1434.9 926.79L1448.3 926.79" stroke="#000" stroke-width="3.6"/>
<text x="1431.7" y="933.12" text-anchor="end" font-size="20.5">0.2</text>
<text x="1431.7" y="960.83" text-anchor="end" font-size="20.5">0.0</text>
<path d="M1465.75 954.5L1465.75 964.7" stroke="#000" stroke-width="3.2"/>
<path d="M1484.5 954.5L1484.5 964.7" stroke="#000" stroke-width="3.2"/>
<path d="M1503 954.5L1503 964.7" stroke="#000" stroke-width="3.2"/>
<path d="M1539.25 954.5L1539.25 964.7" stroke="#000" stroke-width="3.2"/>
<path d="M1557.5 954.5L1557.5 964.7" stroke="#000" stroke-width="3.2"/>
<path d="M1576.25 954.5L1576.25 964.7" stroke="#000" stroke-width="3.2"/>
<path d="M1466 808.2L1466 826M1461.25 808.2L1470.75 808.2M1461.25 826L1470.75 826" stroke="#353535" stroke-width="1.6" fill="none"/>
<path d="M1484.3 819L1484.3 853.1M1479.55 819L1489.05 819M1479.55 853.1L1489.05 853.1" stroke="#353535" stroke-width="1.6" fill="none"/>
<path d="M1503.2 779.8L1503.2 849.5M1498.45 779.8L1507.95 779.8M1498.45 849.5L1507.95 849.5" stroke="#353535" stroke-width="1.6" fill="none"/>
<path d="M1539.2 800.7L1539.2 843.4M1534.45 800.7L1543.95 800.7M1534.45 843.4L1543.95 843.4" stroke="#353535" stroke-width="1.6" fill="none"/>
<path d="M1557.6 830.6L1557.6 859M1552.85 830.6L1562.35 830.6M1552.85 859L1562.35 859" stroke="#353535" stroke-width="1.6" fill="none"/>
<circle cx="1466" cy="805.2" r="3.4" fill="#fff" stroke="#000" stroke-width="1.55"/>
<circle cx="1466" cy="817.4" r="3.4" fill="#fff" stroke="#000" stroke-width="1.55"/>
<circle cx="1466" cy="827.5" r="3.4" fill="#fff" stroke="#000" stroke-width="1.55"/>
<circle cx="1484.3" cy="815.5" r="3.4" fill="#fff" stroke="#000" stroke-width="1.55"/>
<circle cx="1478.4" cy="847.9" r="3.4" fill="#fff" stroke="#000" stroke-width="1.55"/>
<circle cx="1489.6" cy="843.4" r="3.4" fill="#fff" stroke="#000" stroke-width="1.55"/>
<circle cx="1503.2" cy="776.7" r="3.4" fill="#fff" stroke="#000" stroke-width="1.55"/>
<circle cx="1503.2" cy="808.8" r="3.4" fill="#fff" stroke="#000" stroke-width="1.55"/>
<circle cx="1503.2" cy="850.1" r="3.4" fill="#fff" stroke="#000" stroke-width="1.55"/>
<circle cx="1539.2" cy="797.7" r="3.4" fill="#fff" stroke="#000" stroke-width="1.55"/>
<circle cx="1539.2" cy="830.8" r="3.4" fill="#fff" stroke="#000" stroke-width="1.55"/>
<circle cx="1539.2" cy="838.3" r="3.4" fill="#fff" stroke="#000" stroke-width="1.55"/>
<circle cx="1557.6" cy="827.5" r="3.4" fill="#fff" stroke="#000" stroke-width="1.55"/>
<circle cx="1552" cy="854.6" r="3.4" fill="#fff" stroke="#000" stroke-width="1.55"/>
<circle cx="1562.7" cy="850.9" r="3.4" fill="#fff" stroke="#000" stroke-width="1.55"/>
<circle cx="1570.2" cy="843.4" r="3.4" fill="#fff" stroke="#000" stroke-width="1.55"/>
<circle cx="1575.9" cy="837.3" r="3.4" fill="#fff" stroke="#000" stroke-width="1.55"/>
<circle cx="1581.8" cy="839.3" r="3.4" fill="#fff" stroke="#000" stroke-width="1.55"/>
<text x="1522.4" y="749.5" text-anchor="middle" font-size="20.35">EBIV <tspan font-style="italic">M</tspan></text>
<text transform="translate(1473.2 975.7) rotate(-45)" text-anchor="end">0</text>
<text transform="translate(1494.5 979.2) rotate(-45)" text-anchor="end">0.25</text>
<text transform="translate(1518.8 980.1) rotate(-45)" text-anchor="end">1.0</text>
<text transform="translate(1546.9 976.4) rotate(-45)" text-anchor="end">0</text>
<text transform="translate(1568.8 979.9) rotate(-45)" text-anchor="end">0.25</text>
<text transform="translate(1593.8 980.1) rotate(-45)" text-anchor="end">1.0</text>
</g>
<g>
<rect x="1666.9" y="834.1" width="17.4" height="117.9"/>
<rect x="1685.4" y="815" width="17" height="137"/>
<rect x="1703.9" y="801.8" width="17.3" height="150.2"/>
<rect x="1741.45" y="832.65" width="14.8" height="119.35" fill="#fff" stroke="#000" stroke-width="2.9"/>
<rect x="1760.25" y="923.75" width="14" height="28.25" fill="#fff" stroke="#000" stroke-width="2.9"/>
<path d="M1657.7 756.7L1657.7 953.8" stroke="#000" stroke-width="3.6"/>
<path d="M1644.3 952L1804.8 952" stroke="#000" stroke-width="3.6"/>
<path d="M1644.3 758.5L1657.7 758.5" stroke="#000" stroke-width="3.6"/>
<text x="1641.1" y="764.83" text-anchor="end" font-size="20.5">1.6</text>
<path d="M1644.3 782.69L1657.7 782.69" stroke="#000" stroke-width="3.6"/>
<text x="1641.1" y="789.02" text-anchor="end" font-size="20.5">1.4</text>
<path d="M1644.3 806.88L1657.7 806.88" stroke="#000" stroke-width="3.6"/>
<text x="1641.1" y="813.21" text-anchor="end" font-size="20.5">1.2</text>
<path d="M1644.3 831.06L1657.7 831.06" stroke="#000" stroke-width="3.6"/>
<text x="1641.1" y="837.4" text-anchor="end" font-size="20.5">1.0</text>
<path d="M1644.3 855.25L1657.7 855.25" stroke="#000" stroke-width="3.6"/>
<text x="1641.1" y="861.58" text-anchor="end" font-size="20.5">0.8</text>
<path d="M1644.3 879.44L1657.7 879.44" stroke="#000" stroke-width="3.6"/>
<text x="1641.1" y="885.77" text-anchor="end" font-size="20.5">0.6</text>
<path d="M1644.3 903.62L1657.7 903.62" stroke="#000" stroke-width="3.6"/>
<text x="1641.1" y="909.96" text-anchor="end" font-size="20.5">0.4</text>
<path d="M1644.3 927.81L1657.7 927.81" stroke="#000" stroke-width="3.6"/>
<text x="1641.1" y="934.15" text-anchor="end" font-size="20.5">0.2</text>
<text x="1641.1" y="958.33" text-anchor="end" font-size="20.5">0.0</text>
<path d="M1675 952L1675 962.2" stroke="#000" stroke-width="3.2"/>
<path d="M1693.75 952L1693.75 962.2" stroke="#000" stroke-width="3.2"/>
<path d="M1712.5 952L1712.5 962.2" stroke="#000" stroke-width="3.2"/>
<path d="M1748.75 952L1748.75 962.2" stroke="#000" stroke-width="3.2"/>
<path d="M1767 952L1767 962.2" stroke="#000" stroke-width="3.2"/>
<path d="M1785.75 952L1785.75 962.2" stroke="#000" stroke-width="3.2"/>
<path d="M1693.8 795.6L1693.8 834.2M1689.05 795.6L1698.55 795.6M1689.05 834.2L1698.55 834.2" stroke="#353535" stroke-width="1.6" fill="none"/>
<path d="M1712.5 768.8L1712.5 834.6M1707.75 768.8L1717.25 768.8M1707.75 834.6L1717.25 834.6" stroke="#353535" stroke-width="1.6" fill="none"/>
<path d="M1749.1 818L1749.1 844M1744.35 818L1753.85 818M1744.35 844L1753.85 844" stroke="#353535" stroke-width="1.6" fill="none"/>
<path d="M1767.3 917.5L1767.3 927M1762.55 917.5L1772.05 917.5M1762.55 927L1772.05 927" stroke="#353535" stroke-width="1.6" fill="none"/>
<circle cx="1675.5" cy="825.7" r="3.4" fill="#fff" stroke="#000" stroke-width="1.55"/>
<circle cx="1675.5" cy="833.8" r="3.4" fill="#fff" stroke="#000" stroke-width="1.55"/>
<circle cx="1675.5" cy="842.3" r="3.4" fill="#fff" stroke="#000" stroke-width="1.55"/>
<circle cx="1693.8" cy="793" r="3.4" fill="#fff" stroke="#000" stroke-width="1.55"/>
<circle cx="1693.8" cy="820.6" r="3.4" fill="#fff" stroke="#000" stroke-width="1.55"/>
<circle cx="1693.8" cy="830.8" r="3.4" fill="#fff" stroke="#000" stroke-width="1.55"/>
<circle cx="1712.5" cy="764.1" r="3.4" fill="#fff" stroke="#000" stroke-width="1.55"/>
<circle cx="1707" cy="822.4" r="3.4" fill="#fff" stroke="#000" stroke-width="1.55"/>
<circle cx="1718.6" cy="819" r="3.4" fill="#fff" stroke="#000" stroke-width="1.55"/>
<circle cx="1749.1" cy="815.3" r="3.4" fill="#fff" stroke="#000" stroke-width="1.55"/>
<circle cx="1743.2" cy="840.3" r="3.4" fill="#fff" stroke="#000" stroke-width="1.55"/>
<circle cx="1754.3" cy="836.6" r="3.4" fill="#fff" stroke="#000" stroke-width="1.55"/>
<circle cx="1767.3" cy="914" r="3.4" fill="#fff" stroke="#000" stroke-width="1.55"/>
<circle cx="1761.4" cy="927.2" r="3.4" fill="#fff" stroke="#000" stroke-width="1.55"/>
<circle cx="1772.6" cy="924.2" r="3.4" fill="#fff" stroke="#000" stroke-width="1.55"/>
<circle cx="1780.1" cy="952.4" r="3.4" fill="#fff" stroke="#000" stroke-width="1.55"/>
<circle cx="1785.6" cy="952" r="3.4" fill="#fff" stroke="#000" stroke-width="1.55"/>
<circle cx="1791.3" cy="952.4" r="3.4" fill="#fff" stroke="#000" stroke-width="1.55"/>
<text x="1736.75" y="747" text-anchor="middle" font-size="20.35">VSV <tspan font-style="italic">L</tspan></text>
<text transform="translate(1683.2 974.5) rotate(-45)" text-anchor="end">0</text>
<text transform="translate(1703.9 978.6) rotate(-45)" text-anchor="end">0.25</text>
<text transform="translate(1728.8 978.9) rotate(-45)" text-anchor="end">1.0</text>
<text transform="translate(1756.9 975.1) rotate(-45)" text-anchor="end">0</text>
<text transform="translate(1778.2 979.2) rotate(-45)" text-anchor="end">0.25</text>
<text transform="translate(1803.2 979.5) rotate(-45)" text-anchor="end">1.0</text>
<text x="1766.9" y="907.8" text-anchor="middle" font-size="12" stroke="#000" stroke-width="0.35">***</text>
<text x="1787.3" y="942.8" text-anchor="middle" font-size="12" stroke="#000" stroke-width="0.35">****</text>
</g>
<rect x="1958.7" y="51.1" width="18" height="17.7"/>
<text x="1983.4" y="66" font-size="20.3">HDL</text>
<rect x="1960.45" y="82.35" width="16.7" height="16" fill="#fff" stroke="#000" stroke-width="2.9"/>
<text x="1986.2" y="95.9" font-size="20.3">LDL</text>
<rect x="72" y="654.6" width="18.3" height="17.7"/>
<text x="96" y="669.6">rIgG</text>
<rect x="155.35" y="654.75" width="16.6" height="16.9" fill="#fff" stroke="#000" stroke-width="2.9"/>
<text x="180.5" y="671.5" font-size="19.8"><tspan font-family="Liberation Serif,serif" font-size="24">α</tspan>hLDLR R301</text>
<rect x="350" y="657.2" width="17.9" height="17.9"/>
<text x="375.2" y="672.2">gIgG</text>
<rect x="435.55" y="659.65" width="16.8" height="16.5" fill="#fff" stroke="#000" stroke-width="2.9"/>
<text x="456.6" y="674.6" font-size="19.8"><tspan font-family="Liberation Serif,serif" font-size="24">α</tspan>hLDLR #AF2148</text>
<rect x="898.4" y="661.4" width="17.8" height="18.2"/>
<text x="921.9" y="677.6">rIgG</text>
<rect x="973.05" y="661.65" width="16.5" height="17.4" fill="#fff" stroke="#000" stroke-width="2.9"/>
<text x="994.9" y="679" font-size="19.3"><tspan font-family="Liberation Serif,serif" font-size="24">α</tspan>hLDLR R301</text>
<rect x="1525.9" y="654.4" width="18" height="17.7"/>
<text x="1550.3" y="669.8">rIgG</text>
<rect x="1602.45" y="654.65" width="17" height="16.6" fill="#fff" stroke="#000" stroke-width="2.9"/>
<text x="1625.2" y="671.5" font-size="19.7"><tspan font-family="Liberation Serif,serif" font-size="24">α</tspan>mLDLR R004</text>
<rect x="911.6" y="304.8" width="17.9" height="17.7"/>
<text x="935.7" y="319.5" font-size="20.3">rIgG</text>
<rect x="994.55" y="305.35" width="17" height="16.8" fill="#fff" stroke="#000" stroke-width="2.9"/>
<text x="1017.6" y="319.9" font-size="20.4"><tspan font-family="Liberation Serif,serif" font-size="24">α</tspan>hLDLR R301</text>
<rect x="994.2" y="779.9" width="17.8" height="17.4"/>
<text x="1019.1" y="795.6" font-size="20.5">Fc</text>
<rect x="996.15" y="803.75" width="16.5" height="16.6" fill="#fff" stroke="#000" stroke-width="2.9"/>
<text x="1020.4" y="819.1" font-size="20.5">sohLDLR-Fc</text>
<rect x="1820.2" y="779.9" width="17.9" height="17.4"/>
<text x="1844.7" y="795.6" font-size="20.5">Fc</text>
<rect x="1822.15" y="803.75" width="16.4" height="16.6" fill="#fff" stroke="#000" stroke-width="2.9"/>
<text x="1844.6" y="819.1" font-size="20.5">sohLDLR-Fc</text>
<text x="77" y="620">Ab:</text>
<text x="710.6" y="275.6">Ab:</text>
<text x="1353" y="276.25">Lipoprotein<tspan dx="3">:</tspan></text>
<text x="1292" y="277.5"><tspan font-family="Liberation Serif,serif" font-size="21.5">μ</tspan>g/ml</text>
<text x="1961" y="274.5"><tspan font-family="Liberation Serif,serif" font-size="21.5">μ</tspan>g/ml</text>
<text x="1713.8" y="611.25"><tspan font-family="Liberation Serif,serif" font-size="21.5">μ</tspan>g/ml</text>
<text x="1011.3" y="985.6"><tspan font-family="Liberation Serif,serif" font-size="21.5">μ</tspan>g/ml</text>
<text x="1813.2" y="984.4"><tspan font-family="Liberation Serif,serif" font-size="21.5">μ</tspan>g/ml</text>
<path d="M660 649.5L1437 649.5" stroke="#000" stroke-width="1.8"/>
<text x="0" y="27.5" font-size="36" font-weight="bold">a</text>
<text x="2" y="375" font-size="36" font-weight="bold">b</text>
<text x="656" y="27.5" font-size="36" font-weight="bold">c</text>
<text x="1346.5" y="27.5" font-size="36" font-weight="bold">d</text>
<text x="3" y="737.5" font-size="36" font-weight="bold">e</text>
<text x="1150.3" y="736.25" font-size="36" font-weight="bold">f</text>
</svg>
</body></html>
